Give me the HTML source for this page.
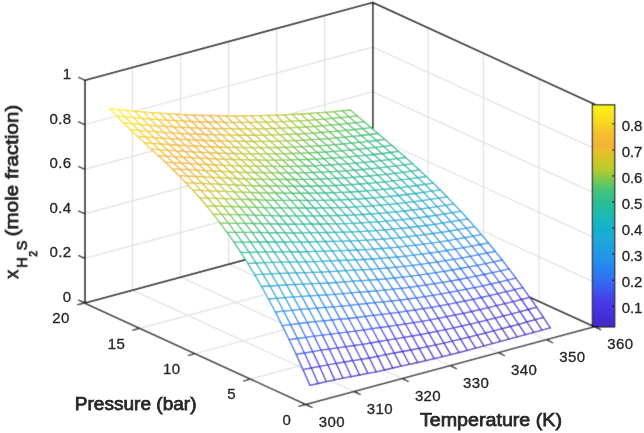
<!DOCTYPE html>
<html><head><meta charset="utf-8"><title>x_H2S mesh</title><style>
html,body{margin:0;padding:0;background:#fff;}
body{width:644px;height:433px;overflow:hidden;position:relative;}
svg{position:absolute;left:0;top:0;display:block;}
text{}
</style></head><body>
<svg width="644" height="433" viewBox="0 0 644 433">
<defs><filter id="id0" x="0" y="0" width="644" height="433" filterUnits="userSpaceOnUse"><feConvolveMatrix order="3" kernelMatrix="0 0 0 0 1 0 0 0 0" edgeMode="duplicate"/></filter><filter id="bl" x="0" y="0" width="644" height="433" filterUnits="userSpaceOnUse"><feConvolveMatrix order="3" kernelMatrix="1 2 1 2 20 2 1 2 1" edgeMode="duplicate"/></filter></defs>
<g filter="url(#bl)">
<rect width="644" height="433" fill="#fff"/>
<path d="M132.4 290 L132.4 67.3 M353.9 391.5 L132.4 290 M180.5 277.1 L180.5 54.4 M402 378.6 L180.5 277.1 M228.6 264.1 L228.6 41.4 M450.1 365.6 L228.6 264.1 M276.6 251.2 L276.6 28.5 M498.2 352.7 L276.6 251.2 M324.7 238.2 L324.7 15.5 M546.3 339.7 L324.7 238.2 M539 301.4 L539 78.7 M250.4 379.1 L539 301.4 M483.6 276 L483.6 53.3 M195 353.7 L483.6 276 M428.2 250.6 L428.2 27.9 M139.7 328.4 L428.2 250.6 M84.3 258.5 L372.8 180.7 M372.8 180.7 L594.4 282.2 M84.3 213.9 L372.8 136.2 M372.8 136.2 L594.4 237.7 M84.3 169.4 L372.8 91.7 M372.8 91.7 L594.4 193.1 M84.3 124.8 L372.8 47.1 M372.8 47.1 L594.4 148.6" stroke="#dedede" stroke-width="1.1" fill="none"/>
<path d="M85 303 L372.8 225.3 M372.8 225.3 L594.4 326.8 M85 303 L85 80.3 M372.8 225.3 L372.8 2.6 M594.4 326.8 L594.4 104.1 M85 80.3 L372.8 2.6 M372.8 2.6 L594.4 104.1" stroke="#000" stroke-width="1.6" fill="none" stroke-linecap="square"/>
<path d="M309.9 385.3 L303 369.6 L296.1 354.3 L289.2 339.7 L282.3 325.6 L275.4 312 L268.5 299 L261.6 286.5 L254.7 274.7 L247.8 263.3 L240.9 252.5 L234 242.2 L227.1 232.4 L220.2 223.1 L213.3 214.2 L206.5 205.8 L199.6 197.8 L192.7 190.1 L185.8 182.7 L178.9 175.6 L172 168.8 L165.1 162.1 L158.2 155.6 L151.3 149.2 L144.4 142.7 L137.5 136.3 L130.6 129.7 L123.7 123 L116.8 116 L109.9 108.7 L118.2 109.6 L126.5 110.4 L134.8 111.2 L143.1 111.9 L151.4 112.6 L159.7 113.2 L168 113.7 L176.3 114.2 L184.6 114.6 L192.9 115 L201.2 115.3 L209.4 115.5 L217.7 115.7 L226 115.8 L234.3 115.8 L242.6 115.8 L250.9 115.7 L259.2 115.6 L267.5 115.4 L275.8 115.1 L284.1 114.8 L292.4 114.4 L300.7 114 L309 113.5 L317.2 112.9 L325.5 112.3 L333.8 111.6 L342.1 110.8 L350.4 110 L357.3 115.9 L364.2 121.8 L371.1 127.7 L378 133.5 L384.9 139.4 L391.8 145.4 L398.7 151.4 L405.6 157.5 L412.5 163.7 L419.4 170 L426.2 176.5 L433.1 183.1 L440 189.8 L446.9 196.8 L453.8 203.9 L460.7 211.3 L467.6 218.8 L474.5 226.6 L481.4 234.6 L488.3 242.8 L495.2 251.3 L502.1 260 L509 268.9 L515.9 278.1 L522.8 287.6 L529.7 297.3 L536.6 307.2 L543.4 317.4 L550.3 327.9 L542 330.2 L533.8 332.4 L525.5 334.7 L517.2 336.9 L508.9 339.2 L500.6 341.4 L492.3 343.6 L484 345.9 L475.7 348.1 L467.4 350.3 L459.1 352.5 L450.8 354.6 L442.5 356.7 L434.2 358.7 L426 360.6 L417.7 362.5 L409.4 364.3 L401.1 366.1 L392.8 368 L384.5 370 L376.2 371.8 L367.9 373.4 L359.6 375 L351.3 376.7 L343 378.2 L334.7 379.9 L326.4 381.7 L318.2 383.5 Z" fill="#fff"/>
<g fill="none" stroke-width="1.35" stroke-linecap="round" stroke-linejoin="round">
<path d="M309.9 385.3 L318.2 383.5M392.8 368 L385.9 354.7M485.4 333 L493.7 330.9M493.7 330.9 L502 328.7M502 328.7 L510.3 326.5M510.3 326.5 L518.6 324.3M518.6 324.3 L526.9 322M526.9 322 L535.2 319.7M535.2 319.7 L543.4 317.4" stroke="#432cd1"/>
<path d="M309.9 385.3 L303 369.6M369.3 358 L377.6 356.4M435.6 344.9 L428.8 333" stroke="#4430dc"/>
<path d="M303 369.6 L311.3 368" stroke="#4538e2"/>
<path d="M303 369.6 L296.1 354.3" stroke="#4541e9"/>
<path d="M296.1 354.3 L304.4 353M345.8 346.6 L338.9 333.1M439.8 305.9 L448.1 304.3M497.9 293.7 L491 284" stroke="#3f50ee"/>
<path d="M296.1 354.3 L289.2 339.7M363.8 330 L356.9 317.5" stroke="#3762f1"/>
<path d="M289.2 339.7 L297.5 338.5M330.6 334.1 L323.7 320.9M348.6 318.5 L356.9 317.5M381.8 314.3 L374.9 302.7M509 268.9 L502.1 260" stroke="#2f70f2"/>
<path d="M289.2 339.7 L282.3 325.6M452.3 270 L460.6 268.5" stroke="#2a7df1"/>
<path d="M282.3 325.6 L290.6 324.6M435.7 272.7 L428.9 263.2M453.7 259.4 L462 257.9M495.2 251.3 L488.3 242.8" stroke="#2687ee"/>
<path d="M282.3 325.6 L275.4 312M300.3 309.4 L308.6 308.8M394.3 278 L387.4 268M404 266.4 L412.3 265.4M446.8 250.5 L455.1 249.1M480 244.5 L473.1 236.2" stroke="#2392ea"/>
<path d="M275.4 312 L283.7 311.2M318.3 295.3 L326.5 294.8M343.1 293.7 L336.2 282.5M379.1 268.7 L387.4 268M448.2 240.6 L456.5 239.2M481.4 234.6 L474.5 226.6" stroke="#2198e6"/>
<path d="M275.4 312 L268.5 299" stroke="#1f9fe0"/>
<path d="M268.5 299 L276.8 298.3M354.2 270.2 L347.3 260.2M381.9 248.5 L390.2 247.9M398.5 247.1 L391.6 238.4M434.4 224.3 L442.7 223M459.3 220.3 L452.4 212.7" stroke="#1da5dc"/>
<path d="M268.5 299 L261.6 286.5M303.1 284.1 L296.2 272.9M329.3 271.7 L322.4 261.4M373.6 249.1 L366.7 240.2M417.9 226.5 L411 218.7M444.1 214 L437.2 206.6" stroke="#1babd6"/>
<path d="M261.6 286.5 L269.9 286M286.5 284.9 L279.6 273.4M312.8 272.3 L305.9 261.8M376.4 230.6 L384.7 230M420.7 209 L428.9 207.8" stroke="#19aed0"/>
<path d="M261.6 286.5 L254.7 274.7M271.3 273.8 L279.6 273.4M315.6 251.4 L323.8 251.1M350.1 240.9 L343.2 232.2M351.5 231.9 L359.8 231.6M368.1 231.1 L361.2 222.9M369.5 222.4 L377.8 221.8M387.5 212.7 L395.8 211.9M404.1 211 L397.2 203.6M405.5 202.7 L413.8 201.7" stroke="#16b3c9"/>
<path d="M254.7 274.7 L263 274.3M281 262.2 L289.3 262.1M351.5 231.9 L344.6 223.6" stroke="#19b6c0"/>
<path d="M254.7 274.7 L247.8 263.3M300.4 242.1 L308.7 242M372.3 205.8 L365.4 198.5" stroke="#1db9b1"/>
<path d="M247.8 263.3 L256.1 263" stroke="#21bbaa"/>
<path d="M247.8 263.3 L240.9 252.5M312.9 215.8 L321.1 215.8M358.5 191.5 L351.6 184.6M395.9 165.9 L389 159.7" stroke="#26bd9e"/>
<path d="M240.9 252.5 L249.2 252.3M276.9 232.7 L285.2 232.8M343.3 185.1 L351.6 184.6M353 177.3 L361.3 176.7M390.4 152.5 L398.7 151.4" stroke="#2abe98"/>
<path d="M240.9 252.5 L234 242.2M260.3 232.5 L268.6 232.7M286.6 224.2 L279.7 215.8M325.3 193 L318.5 186M335 185.5 L328.1 178.7M364.1 162.4 L357.2 156.2M373.8 154.5 L366.9 148.4" stroke="#32bf8c"/>
<path d="M234 242.2 L242.3 242.1M250.6 242.1 L243.7 232.4M278.3 224 L271.4 215.6M288 215.9 L281.1 207.9M307.4 200.5 L300.5 193.2M319.8 179 L328.1 178.7M357.2 156.2 L350.3 150" stroke="#3ac184"/>
<path d="M234 242.2 L227.1 232.4M235.4 232.4 L243.7 232.4M324 158.7 L332.3 158.2" stroke="#47c377"/>
<path d="M227.1 232.4 L235.4 232.4" stroke="#53c56d"/>
<path d="M227.1 232.4 L220.2 223.1M257.6 199.8 L265.9 200.1M289.5 166.4 L297.8 166.3" stroke="#6cc75a"/>
<path d="M220.2 223.1 L228.5 223.2M310.3 146.3 L303.4 140.2" stroke="#78c851"/>
<path d="M220.2 223.1 L213.3 214.2" stroke="#94cb41"/>
<path d="M213.3 214.2 L221.6 214.4M232.7 198.9 L241 199.3M285.4 147.3 L278.5 141.1" stroke="#9fcc3b"/>
<path d="M213.3 214.2 L206.5 205.8M243.8 185.3 L236.9 178.5M248 166.1 L256.3 166.2M260.5 147.7 L268.8 147.6" stroke="#b5cc31"/>
<path d="M206.5 205.8 L214.7 206M238.3 172.1 L246.6 172.4M250.8 153.8 L259.1 153.8M281.3 128.2 L274.4 121.9M284.1 114.8 L292.4 114.4" stroke="#bbcb2f"/>
<path d="M206.5 205.8 L199.6 197.8M227.2 184.6 L220.3 177.7M239.7 165.9 L232.8 159.5M252.2 147.6 L245.3 141.4M256.4 128.8 L264.7 128.7" stroke="#c8c82a"/>
<path d="M199.6 197.8 L207.9 198.1M217.5 191.1 L210.7 183.9" stroke="#cdc728"/>
<path d="M199.6 197.8 L192.7 190.1" stroke="#d9c428"/>
<path d="M192.7 190.1 L201 190.4M203.8 176.9 L212 177.3M224.5 159.3 L217.6 153M249.5 122.4 L242.6 115.8" stroke="#dcc229"/>
<path d="M192.7 190.1 L185.8 182.7M231.5 128.8 L224.6 122.4" stroke="#e7be2b"/>
<path d="M185.8 182.7 L194.1 183.1M220.4 141 L213.5 134.7" stroke="#e9bd2c"/>
<path d="M185.8 182.7 L178.9 175.6M191.4 157.7 L199.7 158.1M213.5 134.7 L206.7 128.3M217.7 115.7 L226 115.8" stroke="#f0b82f"/>
<path d="M178.9 175.6 L187.2 176.1M192.8 151.8 L201.1 152.3" stroke="#f0b730"/>
<path d="M178.9 175.6 L172 168.8M172 168.8 L180.3 169.3M194.2 146 L187.3 139.7M187.3 139.7 L195.6 140.1M195.6 140.1 L188.7 133.8M199.8 121.8 L208.1 122M208.1 122 L201.2 115.3" stroke="#f3b631"/>
<path d="M172 168.8 L165.1 162.1M165.1 162.1 L173.4 162.7M187.3 139.7 L180.4 133.3M180.4 133.3 L188.7 133.8M188.7 133.8 L181.8 127.3M192.9 115 L201.2 115.3" stroke="#f4ba2f"/>
<path d="M165.1 162.1 L158.2 155.6M180.4 133.3 L173.5 126.8M173.5 126.8 L181.8 127.3" stroke="#f5be2d"/>
<path d="M158.2 155.6 L166.5 156.2M181.8 127.3 L174.9 120.6" stroke="#f5bf2d"/>
<path d="M158.2 155.6 L151.3 149.2M151.3 149.2 L159.6 149.8M166.6 120.1 L174.9 120.6" stroke="#f5c629"/>
<path d="M151.3 149.2 L144.4 142.7" stroke="#f5cd25"/>
<path d="M144.4 142.7 L152.7 143.4M152.7 143.4 L145.8 137M166.6 120.1 L159.7 113.2" stroke="#f5ce25"/>
<path d="M144.4 142.7 L137.5 136.3M151.4 112.6 L159.7 113.2" stroke="#f5d521"/>
<path d="M137.5 136.3 L145.8 137" stroke="#f6d521"/>
<path d="M137.5 136.3 L130.6 129.7" stroke="#f7dc1e"/>
<path d="M130.6 129.7 L138.9 130.4" stroke="#f7dc1d"/>
<path d="M130.6 129.7 L123.7 123" stroke="#f8e319"/>
<path d="M123.7 123 L132 123.7" stroke="#f8e419"/>
<path d="M123.7 123 L116.8 116" stroke="#f9ea17"/>
<path d="M116.8 116 L125.1 116.8" stroke="#f9eb17"/>
<path d="M116.8 116 L109.9 108.7" stroke="#faf215"/>
<path d="M109.9 108.7 L118.2 109.6" stroke="#faf315"/>
<path d="M318.2 383.5 L326.4 381.7M326.4 381.7 L334.7 379.9M409.4 364.3 L402.5 351.5" stroke="#432bd0"/>
<path d="M318.2 383.5 L311.3 368M377.6 356.4 L385.9 354.7M443.9 343.1 L437 331.4" stroke="#4430db"/>
<path d="M311.3 368 L319.6 366.4M369.3 358 L362.4 344.4M403.9 337.4 L412.2 336M461.9 326 L455 315M470.2 324.1 L463.3 313.3M478.5 322.1 L471.6 311.5" stroke="#4537e2"/>
<path d="M311.3 368 L304.4 353M395.6 338.8 L388.7 326.4M496.5 305.7 L489.6 295.6" stroke="#453fe8"/>
<path d="M304.4 353 L312.7 351.6M380.4 327.5 L388.7 326.4M448.1 304.3 L456.4 302.7M522.8 287.6 L515.9 278.1" stroke="#404eed"/>
<path d="M304.4 353 L297.5 338.5M372.1 328.7 L365.2 316.4M457.8 290.9 L466.1 289.2" stroke="#385ff1"/>
<path d="M297.5 338.5 L305.8 337.3M356.9 317.5 L365.2 316.4M467.5 277.9 L475.8 276.2" stroke="#306ef2"/>
<path d="M297.5 338.5 L290.6 324.6M442.6 282.4 L435.7 272.7M468.9 266.9 L477.2 265.3" stroke="#2b7af1"/>
<path d="M290.6 324.6 L298.9 323.5M419.2 275.1 L427.5 273.9M452.3 270 L445.4 260.7" stroke="#2784ef"/>
<path d="M290.6 324.6 L283.7 311.2M308.6 308.8 L316.9 308.1M333.4 306.8 L326.5 294.8M402.6 277.1 L395.7 267.2M412.3 265.4 L420.6 264.4M455.1 249.1 L463.4 247.6" stroke="#2390eb"/>
<path d="M283.7 311.2 L292 310.3M387.4 268 L395.7 267.2M446.8 250.5 L439.9 241.9" stroke="#2196e7"/>
<path d="M283.7 311.2 L276.8 298.3M362.5 269.8 L370.8 269.3M388.8 257.7 L397.1 257M415.1 245.3 L423.4 244.2M439.9 241.9 L433 233.5" stroke="#1f9de2"/>
<path d="M276.8 298.3 L285.1 297.6M311.4 283.7 L319.7 283.4M390.2 247.9 L398.5 247.1M416.5 235.7 L424.8 234.7M441.3 232.3 L434.4 224.3M451 221.7 L459.3 220.3" stroke="#1ea3de"/>
<path d="M276.8 298.3 L269.9 286M311.4 283.7 L304.5 272.6M337.6 271.2 L330.7 260.9M381.9 248.5 L375 239.7M409.6 227.5 L417.9 226.5M435.8 215.3 L444.1 214M460.7 211.3 L453.8 203.9" stroke="#1ba9d8"/>
<path d="M269.9 286 L278.2 285.5M294.8 284.5 L287.9 273.1M321.1 272.1 L314.2 261.7M366.7 240.2 L375 239.7M383.3 239.1 L376.4 230.6M427.5 216.5 L420.7 209M437.2 206.6 L445.5 205.3" stroke="#1aadd3"/>
<path d="M269.9 286 L263 274.3M296.2 272.9 L289.3 262.1M323.8 251.1 L332.1 250.8M340.4 250.6 L333.5 241.4M341.8 241.2 L350.1 240.9M395.8 211.9 L404.1 211M412.4 210 L405.5 202.7M413.8 201.7 L422.1 200.6" stroke="#17b2cb"/>
<path d="M263 274.3 L271.3 273.8M305.9 261.8 L299 251.7M359.8 231.6 L352.9 223.3M415.2 193.5 L423.5 192.3" stroke="#17b5c5"/>
<path d="M263 274.3 L256.1 263M290.7 251.7 L299 251.7M307.3 251.7 L300.4 242.1M308.7 242 L317 241.7M398.6 195.5 L391.7 188.6M400 187.6 L408.3 186.6M416.6 185.5 L409.7 178.8" stroke="#1bb8b7"/>
<path d="M256.1 263 L264.4 262.7" stroke="#1ebaae"/>
<path d="M256.1 263 L249.2 252.3M293.5 233 L301.8 232.9M330.8 207.8 L339.1 207.6M357.1 199.1 L350.2 192M368.2 183.4 L376.5 182.6M394.5 173.3 L387.6 166.9M395.9 165.9 L404.2 164.8M412.5 163.7 L405.6 157.5" stroke="#24bca3"/>
<path d="M249.2 252.3 L257.5 252.1M285.2 232.8 L293.5 233M332.2 200.2 L340.5 199.9M341.9 192.4 L350.2 192M377.9 175.2 L371 168.7M379.3 167.9 L387.6 166.9" stroke="#27be9d"/>
<path d="M249.2 252.3 L242.3 242.1M343.3 185.1 L336.4 178.4M353 177.3 L346.1 170.8M373.8 154.5 L382.1 153.5" stroke="#2dbe92"/>
<path d="M242.3 242.1 L250.6 242.1M258.9 242 L252 232.4M315.7 200.4 L308.8 193.2M383.5 146.4 L376.6 140.5" stroke="#33bf8b"/>
<path d="M242.3 242.1 L235.4 232.4M243.7 232.4 L252 232.4M299.1 200.4 L292.2 193.2M311.6 179.3 L319.8 179M329.5 171.8 L322.6 165.4M378 133.5 L371.1 127.7" stroke="#40c27e"/>
<path d="M235.4 232.4 L228.5 223.2M286.7 179.5 L295 179.5" stroke="#5ec665"/>
<path d="M228.5 223.2 L236.8 223.3" stroke="#6ac75c"/>
<path d="M228.5 223.2 L221.6 214.4M290.9 159.9 L284 153.7" stroke="#83c94a"/>
<path d="M221.6 214.4 L229.9 214.6M285.4 147.3 L293.7 147.1" stroke="#8eca43"/>
<path d="M221.6 214.4 L214.7 206M231.3 206.5 L224.4 198.6M256.3 166.2 L264.6 166.3" stroke="#a8cc37"/>
<path d="M214.7 206 L223 206.3M246.6 172.4 L254.9 172.5M281.3 128.2 L289.6 127.8" stroke="#b0cd33"/>
<path d="M214.7 206 L207.9 198.1M248 166.1 L241.1 159.7M260.5 147.7 L253.6 141.5" stroke="#bfca2d"/>
<path d="M207.9 198.1 L216.1 198.4" stroke="#c3c92c"/>
<path d="M207.9 198.1 L201 190.4M210.7 183.9 L218.9 184.2M223.1 165.3 L231.4 165.7M243.9 147.6 L237 141.3M248.1 128.9 L256.4 128.8" stroke="#d0c627"/>
<path d="M201 190.4 L209.3 190.8M212 177.3 L220.3 177.7M232.8 159.5 L225.9 153.3M238.4 135.2 L246.7 135.2M249.5 122.4 L257.8 122.3" stroke="#d4c527"/>
<path d="M201 190.4 L194.1 183.1M231.5 128.8 L239.8 128.9M242.6 115.8 L250.9 115.7" stroke="#dec129"/>
<path d="M194.1 183.1 L202.4 183.5M220.4 141 L228.7 141.2" stroke="#e1c12a"/>
<path d="M194.1 183.1 L187.2 176.1" stroke="#ebbd2c"/>
<path d="M187.2 176.1 L195.5 176.5M201.1 152.3 L209.4 152.7M209.4 152.7 L202.5 146.4M214.9 128.6 L223.2 128.7" stroke="#edbc2d"/>
<path d="M187.2 176.1 L180.3 169.3M201.1 152.3 L194.2 146M194.2 146 L202.5 146.4M214.9 128.6 L208.1 122" stroke="#f1b730"/>
<path d="M180.3 169.3 L188.6 169.7M195.6 140.1 L203.9 140.5" stroke="#f2b631"/>
<path d="M180.3 169.3 L173.4 162.7M173.4 162.7 L181.7 163.2M188.7 133.8 L197 134.2M201.2 115.3 L209.4 115.5" stroke="#f4b731"/>
<path d="M173.4 162.7 L166.5 156.2M166.5 156.2 L174.8 156.7M181.8 127.3 L190.1 127.7" stroke="#f4bb2f"/>
<path d="M166.5 156.2 L159.6 149.8" stroke="#f5bf2c"/>
<path d="M159.6 149.8 L167.9 150.3M167.9 150.3 L161 144M174.9 120.6 L183.2 121.1" stroke="#f5c02c"/>
<path d="M159.6 149.8 L152.7 143.4" stroke="#f5c729"/>
<path d="M152.7 143.4 L161 144M174.9 120.6 L168 113.7" stroke="#f5c728"/>
<path d="M145.8 137 L154.1 137.6M159.7 113.2 L168 113.7" stroke="#f5cf25"/>
<path d="M145.8 137 L138.9 130.4M138.9 130.4 L147.2 131.1" stroke="#f6d621"/>
<path d="M138.9 130.4 L132 123.7" stroke="#f7dd1d"/>
<path d="M132 123.7 L140.3 124.5" stroke="#f7de1d"/>
<path d="M132 123.7 L125.1 116.8M125.1 116.8 L133.4 117.6" stroke="#f8e519"/>
<path d="M125.1 116.8 L118.2 109.6" stroke="#f9ec17"/>
<path d="M118.2 109.6 L126.5 110.4" stroke="#f9ed16"/>
<path d="M326.4 381.7 L319.6 366.4M334.7 379.9 L327.8 364.8M385.9 354.7 L394.2 353M452.2 341.2 L445.3 329.7" stroke="#442fda"/>
<path d="M319.6 366.4 L327.8 364.8M377.6 356.4 L370.7 343M412.2 336 L420.5 334.6M486.8 320.1 L479.9 309.6M495.1 318.1 L488.2 307.7M503.4 316 L496.5 305.7" stroke="#4536e1"/>
<path d="M319.6 366.4 L312.7 351.6" stroke="#463ee7"/>
<path d="M312.7 351.6 L321 350.2" stroke="#414cec"/>
<path d="M312.7 351.6 L305.8 337.3M380.4 327.5 L373.5 315.3" stroke="#3a5cf0"/>
<path d="M305.8 337.3 L314.1 336.1M449.5 292.4 L442.6 282.4M484.1 274.5 L492.4 272.7" stroke="#326bf2"/>
<path d="M305.8 337.3 L298.9 323.5M374.9 302.7 L383.2 301.9M417.8 286.2 L426.1 285M450.9 281 L444 271.4" stroke="#2c78f1"/>
<path d="M298.9 323.5 L307.2 322.5M332 320 L325.1 307.4M374.9 302.7 L368 291.5M427.5 273.9 L435.7 272.7M460.6 268.5 L453.7 259.4M486.9 253 L495.2 251.3" stroke="#2882f0"/>
<path d="M298.9 323.5 L292 310.3M316.9 308.1 L325.1 307.4M341.7 306.2 L334.8 294.4M453.7 259.4 L446.8 250.5M480 244.5 L488.3 242.8" stroke="#248dec"/>
<path d="M292 310.3 L300.3 309.4M395.7 267.2 L404 266.4M420.6 264.4 L413.7 255.1M430.2 253 L438.5 251.8M463.4 247.6 L456.5 239.2" stroke="#2294e9"/>
<path d="M292 310.3 L285.1 297.6M361.1 280.7 L354.2 270.2M387.4 268 L380.5 258.4M466.2 228.1 L474.5 226.6" stroke="#209be3"/>
<path d="M285.1 297.6 L293.4 296.9M310 295.9 L303.1 284.1M345.9 270.7 L354.2 270.2M372.2 259 L380.5 258.4M398.5 247.1 L406.8 246.2M424.8 234.7 L433 233.5M449.6 231 L442.7 223" stroke="#1ea1df"/>
<path d="M285.1 297.6 L278.2 285.5M294.8 284.5 L303.1 284.1M321.1 272.1 L329.3 271.7M347.3 260.2 L355.6 259.9M390.2 247.9 L383.3 239.1M391.6 238.4 L399.9 237.6M417.9 226.5 L426.2 225.5M442.7 223 L435.8 215.3M452.4 212.7 L460.7 211.3" stroke="#1ca8da"/>
<path d="M278.2 285.5 L286.5 284.9M375 239.7 L383.3 239.1M391.6 238.4 L384.7 230M419.3 217.6 L427.5 216.5" stroke="#1aabd5"/>
<path d="M278.2 285.5 L271.3 273.8M332.1 250.8 L340.4 250.6M348.7 250.3 L341.8 241.2M350.1 240.9 L358.4 240.6M366.7 240.2 L359.8 231.6M368.1 231.1 L376.4 230.6M384.7 230 L377.8 221.8M386.1 221.2 L394.4 220.4M428.9 207.8 L422.1 200.6M430.3 199.4 L438.6 198.1" stroke="#18b0ce"/>
<path d="M271.3 273.8 L264.4 262.7M361.2 222.9 L354.3 214.9" stroke="#1ab7bc"/>
<path d="M264.4 262.7 L272.7 262.4M408.3 186.6 L401.4 179.9" stroke="#1db9b4"/>
<path d="M264.4 262.7 L257.5 252.1M301.8 232.9 L310.1 232.7M393.1 180.9 L386.2 174.3M394.5 173.3 L402.8 172.3" stroke="#22bba8"/>
<path d="M257.5 252.1 L265.8 251.9M274.1 251.9 L267.2 242M275.5 242 L283.8 242M329.4 215.7 L322.5 207.9M350.2 192 L358.5 191.5M376.5 182.6 L369.6 176M404.2 164.8 L397.3 158.6" stroke="#25bda1"/>
<path d="M257.5 252.1 L250.6 242.1M275.5 242 L268.6 232.7M303.2 224.1 L296.3 215.8M362.7 169.5 L371 168.7M389 159.7 L382.1 153.5" stroke="#2abe97"/>
<path d="M250.6 242.1 L258.9 242M267.2 242 L260.3 232.5M304.6 215.8 L297.7 207.9M314.3 208 L307.4 200.5M323.9 200.4 L317.1 193.1M333.6 192.7 L326.7 185.8M362.7 169.5 L355.8 163.2" stroke="#2dbe91"/>
<path d="M243.7 232.4 L236.8 223.3M254.8 215.2 L263.1 215.4M264.5 207.6 L272.8 207.8M295 179.5 L303.3 179.4M362.8 128.6 L355.9 122.7" stroke="#51c46f"/>
<path d="M236.8 223.3 L245.1 223.4" stroke="#5cc667"/>
<path d="M236.8 223.3 L229.9 214.6M329.6 131.9 L322.7 125.8" stroke="#73c854"/>
<path d="M229.9 214.6 L238.2 214.7" stroke="#7ec94d"/>
<path d="M229.9 214.6 L223 206.3M239.6 206.8 L232.7 198.9M264.6 166.3 L272.9 166.4" stroke="#98cb3e"/>
<path d="M223 206.3 L231.3 206.5M274.3 160.1 L267.4 153.9M296.5 134 L289.6 127.8" stroke="#a1cc3a"/>
<path d="M223 206.3 L216.1 198.4" stroke="#b6cc31"/>
<path d="M216.1 198.4 L224.4 198.6M234.1 191.8 L227.2 184.6M270.2 141.3 L263.3 135.1" stroke="#bacb2f"/>
<path d="M216.1 198.4 L209.3 190.8M231.4 165.7 L239.7 165.9M274.4 121.9 L267.5 115.4" stroke="#c7c82a"/>
<path d="M209.3 190.8 L217.5 191.1M220.3 177.7 L228.6 178.1M232.8 159.5 L241.1 159.7M264.7 128.7 L257.8 122.3M267.5 115.4 L275.8 115.1" stroke="#cac829"/>
<path d="M209.3 190.8 L202.4 183.5" stroke="#d6c427"/>
<path d="M202.4 183.5 L210.7 183.9M221.7 171.4 L214.8 164.9M235.6 147.4 L228.7 141.2" stroke="#d8c428"/>
<path d="M202.4 183.5 L195.5 176.5M208 158.5 L216.2 158.9M221.8 134.9 L230.1 135.1" stroke="#e3c02a"/>
<path d="M195.5 176.5 L203.8 176.9M209.4 152.7 L217.6 153M234.3 115.8 L242.6 115.8" stroke="#e5bf2b"/>
<path d="M195.5 176.5 L188.6 169.7" stroke="#eebb2d"/>
<path d="M188.6 169.7 L196.9 170.2M203.9 140.5 L212.1 140.8M216.3 122.2 L224.6 122.4" stroke="#eeba2e"/>
<path d="M188.6 169.7 L181.7 163.2M203.9 140.5 L197 134.2M216.3 122.2 L209.4 115.5" stroke="#f2b531"/>
<path d="M181.7 163.2 L190 163.6M191.4 157.7 L184.5 151.3M184.5 151.3 L192.8 151.8M206.7 128.3 L199.8 121.8" stroke="#f3b532"/>
<path d="M181.7 163.2 L174.8 156.7M197 134.2 L190.1 127.7M190.1 127.7 L198.4 128.1" stroke="#f4b730"/>
<path d="M174.8 156.7 L183.1 157.2M183.1 157.2 L176.2 150.8M176.2 150.8 L184.5 151.3M184.5 151.3 L177.6 145M198.4 128.1 L191.5 121.5" stroke="#f4b830"/>
<path d="M174.8 156.7 L167.9 150.3M190.1 127.7 L183.2 121.1" stroke="#f4bb2e"/>
<path d="M167.9 150.3 L176.2 150.8M176.2 150.8 L169.3 144.5M169.3 144.5 L177.6 145M177.6 145 L170.7 138.7M170.7 138.7 L179 139.2M183.2 121.1 L191.5 121.5M191.5 121.5 L184.6 114.6" stroke="#f5bc2e"/>
<path d="M161 144 L169.3 144.5M183.2 121.1 L176.3 114.2" stroke="#f5c12c"/>
<path d="M161 144 L154.1 137.6M154.1 137.6 L162.4 138.2M168 113.7 L176.3 114.2" stroke="#f5c828"/>
<path d="M154.1 137.6 L147.2 131.1" stroke="#f5cf24"/>
<path d="M147.2 131.1 L155.5 131.7M155.5 131.7 L148.6 125.1" stroke="#f5d024"/>
<path d="M147.2 131.1 L140.3 124.5M140.3 124.5 L148.6 125.1" stroke="#f6d720"/>
<path d="M140.3 124.5 L133.4 117.6" stroke="#f7de1c"/>
<path d="M133.4 117.6 L141.7 118.3" stroke="#f7df1c"/>
<path d="M133.4 117.6 L126.5 110.4" stroke="#f8e618"/>
<path d="M126.5 110.4 L134.8 111.2" stroke="#f8e718"/>
<path d="M334.7 379.9 L343 378.2M417.7 362.5 L410.8 350" stroke="#432bcf"/>
<path d="M327.8 364.8 L336.1 363.4M385.9 354.7 L379 341.5M428.8 333 L437 331.4" stroke="#4535e0"/>
<path d="M327.8 364.8 L321 350.2M403.9 337.4 L397 325.2M438.4 318.4 L446.7 316.7M446.7 316.7 L455 315M529.7 297.3 L522.8 287.6" stroke="#463de7"/>
<path d="M321 350.2 L329.2 349M481.3 297.5 L489.6 295.6" stroke="#4249eb"/>
<path d="M321 350.2 L314.1 336.1M482.7 285.8 L491 284" stroke="#3b5af0"/>
<path d="M314.1 336.1 L322.4 335.1" stroke="#3368f1"/>
<path d="M314.1 336.1 L307.2 322.5M332 320 L340.3 319.2M365.2 316.4 L358.3 304.4M408.1 299 L401.2 288.3M426.1 285 L434.3 283.7" stroke="#2d76f1"/>
<path d="M307.2 322.5 L315.5 321.7M340.3 319.2 L333.4 306.8M383.2 301.9 L376.3 290.8M477.2 265.3 L470.3 256.3" stroke="#297ff0"/>
<path d="M307.2 322.5 L300.3 309.4M359.7 292.1 L368 291.5M384.6 290.1 L377.7 279.5M394.3 278 L402.6 277.1M437.1 262 L445.4 260.7M470.3 256.3 L463.4 247.6" stroke="#258bed"/>
<path d="M300.3 309.4 L293.4 296.9M395.7 267.2 L388.8 257.7" stroke="#2099e5"/>
<path d="M293.4 296.9 L301.7 296.4M318.3 295.3 L311.4 283.7M354.2 270.2 L362.5 269.8M380.5 258.4 L388.8 257.7M406.8 246.2 L415.1 245.3M431.6 243.1 L424.8 234.7M441.3 232.3 L449.6 231M466.2 228.1 L459.3 220.3" stroke="#1f9fe1"/>
<path d="M293.4 296.9 L286.5 284.9M303.1 284.1 L311.4 283.7M355.6 259.9 L363.9 259.5M424.8 234.7 L417.9 226.5" stroke="#1da6dc"/>
<path d="M286.5 284.9 L294.8 284.5M312.8 272.3 L321.1 272.1M339 260.5 L347.3 260.2M355.6 259.9 L348.7 250.3M399.9 237.6 L393 229.2M426.2 225.5 L419.3 217.6M452.4 212.7 L445.5 205.3" stroke="#1baad7"/>
<path d="M279.6 273.4 L287.9 273.1M322.4 261.4 L315.6 251.4M422.1 200.6 L430.3 199.4" stroke="#17b1cc"/>
<path d="M279.6 273.4 L272.7 262.4M370.9 214 L379.2 213.4M387.5 212.7 L380.6 205.2M388.9 204.4 L397.2 203.6M405.5 202.7 L398.6 195.5M406.9 194.5 L415.2 193.5" stroke="#18b5c2"/>
<path d="M272.7 262.4 L281 262.2M370.9 214 L364 206.4" stroke="#1bb8b9"/>
<path d="M272.7 262.4 L265.8 251.9M308.7 242 L301.8 232.9" stroke="#1fbbac"/>
<path d="M265.8 251.9 L274.1 251.9M282.4 251.8 L275.5 242M283.8 242 L292.1 242.1" stroke="#22bca6"/>
<path d="M265.8 251.9 L258.9 242M267.2 242 L275.5 242M321.1 215.8 L314.3 208M389 159.7 L397.3 158.6" stroke="#28be9c"/>
<path d="M258.9 242 L267.2 242M312.9 215.8 L306 208M322.5 207.9 L315.7 200.4M332.2 200.2 L325.3 193M341.9 192.4 L335 185.5" stroke="#2abe96"/>
<path d="M252 232.4 L260.3 232.5M317.1 193.1 L310.2 186.2M329.5 171.8 L337.8 171.4M358.6 149.2 L366.9 148.4M368.3 141.4 L376.6 140.5" stroke="#39c185"/>
<path d="M252 232.4 L245.1 223.4M300.5 193.2 L293.6 186.2M353.1 136.4 L361.4 135.5" stroke="#46c379"/>
<path d="M245.1 223.4 L253.4 223.5M325.4 152 L333.7 151.4" stroke="#4ec471"/>
<path d="M245.1 223.4 L238.2 214.7M288.1 172.9 L296.4 172.8M339.3 124.4 L347.6 123.6M349 116.8 L357.3 115.9" stroke="#65c65f"/>
<path d="M238.2 214.7 L246.5 214.9M247.9 207.1 L256.2 207.3" stroke="#6ec758"/>
<path d="M238.2 214.7 L231.3 206.5M284 153.7 L292.3 153.5" stroke="#87c948"/>
<path d="M231.3 206.5 L239.6 206.8" stroke="#90ca42"/>
<path d="M224.4 198.6 L232.7 198.9M266 160.1 L259.1 153.8M270.2 141.3 L278.5 141.1" stroke="#afcd33"/>
<path d="M224.4 198.6 L217.5 191.1M274.4 121.9 L282.7 121.6" stroke="#bdcb2e"/>
<path d="M217.5 191.1 L225.8 191.4M241.1 159.7 L249.4 159.9" stroke="#c1ca2c"/>
<path d="M210.7 183.9 L203.8 176.9M223.1 165.3 L216.2 158.9M237 141.3 L230.1 135.1M241.2 122.4 L249.5 122.4" stroke="#dac328"/>
<path d="M203.8 176.9 L196.9 170.2M217.6 153 L210.7 146.8M223.2 128.7 L231.5 128.8" stroke="#e6bf2b"/>
<path d="M196.9 170.2 L205.2 170.6M219 147 L212.1 140.8" stroke="#e7be2c"/>
<path d="M196.9 170.2 L190 163.6M212.1 140.8 L205.3 134.5" stroke="#efba2e"/>
<path d="M190 163.6 L198.3 164.1M205.3 134.5 L213.5 134.7M224.6 122.4 L217.7 115.7" stroke="#efb92f"/>
<path d="M190 163.6 L183.1 157.2M183.1 157.2 L191.4 157.7M205.3 134.5 L198.4 128.1M198.4 128.1 L206.7 128.3M209.4 115.5 L217.7 115.7" stroke="#f3b432"/>
<path d="M169.3 144.5 L162.4 138.2" stroke="#f5c12b"/>
<path d="M162.4 138.2 L170.7 138.7M170.7 138.7 L163.8 132.3M176.3 114.2 L184.6 114.6" stroke="#f5c22b"/>
<path d="M162.4 138.2 L155.5 131.7" stroke="#f5c928"/>
<path d="M155.5 131.7 L163.8 132.3" stroke="#f5c927"/>
<path d="M148.6 125.1 L156.9 125.8" stroke="#f5d123"/>
<path d="M148.6 125.1 L141.7 118.3" stroke="#f6d820"/>
<path d="M141.7 118.3 L150 119" stroke="#f6d91f"/>
<path d="M141.7 118.3 L134.8 111.2" stroke="#f7e01b"/>
<path d="M134.8 111.2 L143.1 111.9" stroke="#f8e11b"/>
<path d="M343 378.2 L351.3 376.7M426 360.6 L419.1 348.3" stroke="#432ace"/>
<path d="M343 378.2 L336.1 363.4" stroke="#442fd8"/>
<path d="M336.1 363.4 L344.4 362M437 331.4 L445.3 329.7" stroke="#4534df"/>
<path d="M336.1 363.4 L329.2 349M370.7 343 L379 341.5M420.5 334.6 L413.6 322.7M463.3 313.3 L471.6 311.5" stroke="#463be6"/>
<path d="M329.2 349 L337.5 347.8M506.2 291.7 L514.5 289.7" stroke="#4346eb"/>
<path d="M329.2 349 L322.4 335.1M415 310 L423.3 308.7M456.4 302.7 L449.5 292.4" stroke="#3c57f0"/>
<path d="M322.4 335.1 L330.6 334.1" stroke="#3564f1"/>
<path d="M322.4 335.1 L315.5 321.7M484.1 274.5 L477.2 265.3" stroke="#2e73f2"/>
<path d="M315.5 321.7 L323.7 320.9M391.5 301 L384.6 290.1M434.3 283.7 L427.5 273.9M502.1 260 L495.2 251.3" stroke="#2a7cf1"/>
<path d="M315.5 321.7 L308.6 308.8M358.3 304.4 L351.4 292.9M368 291.5 L376.3 290.8M392.9 289.2 L386 278.8M486.9 253 L480 244.5" stroke="#2688ee"/>
<path d="M308.6 308.8 L301.7 296.4M352.8 281.2 L361.1 280.7M404 266.4 L397.1 257M413.7 255.1 L422 254.1M438.5 251.8 L431.6 243.1" stroke="#2197e6"/>
<path d="M301.7 296.4 L310 295.9M326.5 294.8 L319.7 283.4M336.2 282.5 L344.5 281.8M413.7 255.1 L406.8 246.2M423.4 244.2 L431.6 243.1M448.2 240.6 L441.3 232.3M457.9 229.6 L466.2 228.1" stroke="#209ce3"/>
<path d="M301.7 296.4 L294.8 284.5" stroke="#1da3dd"/>
<path d="M287.9 273.1 L296.2 272.9M330.7 260.9 L323.8 251.1" stroke="#18b0cf"/>
<path d="M287.9 273.1 L281 262.2M395.8 211.9 L388.9 204.4M440 189.8 L433.1 183.1" stroke="#16b4c7"/>
<path d="M281 262.2 L274.1 251.9M317 241.7 L310.1 232.7M318.4 232.6 L326.6 232.5M346 215.3 L354.3 214.9M373.7 197.9 L382 197.2" stroke="#1db9b2"/>
<path d="M274.1 251.9 L282.4 251.8M290.7 251.7 L283.8 242M373.7 197.9 L366.8 190.9M401.4 179.9 L394.5 173.3M402.8 172.3 L411.1 171.2M419.4 170 L412.5 163.7" stroke="#20bbab"/>
<path d="M260.3 232.5 L253.4 223.5M271.4 215.6 L279.7 215.8M281.1 207.9 L289.4 207.9M290.8 200.4 L299.1 200.4M321.2 172.2 L329.5 171.8M369.7 134.5 L378 133.5" stroke="#3ec280"/>
<path d="M253.4 223.5 L261.7 223.7M292.2 193.2 L300.5 193.2M310.2 186.2 L303.3 179.4M350.3 150 L343.4 144M360 142.4 L353.1 136.4" stroke="#43c37b"/>
<path d="M253.4 223.5 L246.5 214.9M272.8 207.8 L265.9 200.1M314.4 165.8 L307.5 159.5" stroke="#57c56a"/>
<path d="M246.5 214.9 L254.8 215.2M283.9 193.1 L277 186.1M315.8 159.1 L308.9 152.9M318.5 145.8 L326.8 145.3" stroke="#5fc664"/>
<path d="M246.5 214.9 L239.6 206.8M277 186.1 L270.1 179.3M288.1 172.9 L281.2 166.4M299.2 159.7 L292.3 153.5M332.4 118.4 L340.7 117.6M342.1 110.8 L350.4 110" stroke="#76c852"/>
<path d="M239.6 206.8 L247.9 207.1" stroke="#7ec94c"/>
<path d="M232.7 198.9 L225.8 191.4M254.9 172.5 L248 166.1M267.4 153.9 L260.5 147.7M289.6 127.8 L282.7 121.6" stroke="#b3cc32"/>
<path d="M225.8 191.4 L234.1 191.8M236.9 178.5 L245.2 178.8M268.8 147.6 L261.9 141.4M279.9 134.7 L273 128.5" stroke="#b7cc30"/>
<path d="M225.8 191.4 L218.9 184.2" stroke="#c3c92b"/>
<path d="M218.9 184.2 L227.2 184.6M243.9 147.6 L252.2 147.6" stroke="#c6c92a"/>
<path d="M218.9 184.2 L212 177.3M231.4 165.7 L224.5 159.3M237 141.3 L245.3 141.4M256.4 128.8 L249.5 122.4" stroke="#d2c626"/>
<path d="M212 177.3 L205.2 170.6M225.9 153.3 L219 147" stroke="#dec229"/>
<path d="M205.2 170.6 L213.4 171M219 147 L227.3 147.3" stroke="#dfc129"/>
<path d="M205.2 170.6 L198.3 164.1M224.6 122.4 L232.9 122.4" stroke="#e9be2c"/>
<path d="M198.3 164.1 L206.6 164.5M206.6 164.5 L199.7 158.1M213.5 134.7 L221.8 134.9M232.9 122.4 L226 115.8" stroke="#eabd2c"/>
<path d="M198.3 164.1 L191.4 157.7" stroke="#f0b92f"/>
<path d="M177.6 145 L185.9 145.6M185.9 145.6 L179 139.2M191.5 121.5 L199.8 121.8" stroke="#f4b930"/>
<path d="M163.8 132.3 L172.1 132.9" stroke="#f5c32b"/>
<path d="M163.8 132.3 L156.9 125.8" stroke="#f5ca27"/>
<path d="M156.9 125.8 L165.2 126.3" stroke="#f5cb27"/>
<path d="M156.9 125.8 L150 119" stroke="#f5d223"/>
<path d="M150 119 L158.3 119.6" stroke="#f5d323"/>
<path d="M150 119 L143.1 111.9" stroke="#f6da1f"/>
<path d="M143.1 111.9 L151.4 112.6" stroke="#f7db1e"/>
<path d="M351.3 376.7 L359.6 375M442.5 356.7 L435.6 344.9M450.8 354.6 L443.9 343.1" stroke="#422acc"/>
<path d="M351.3 376.7 L344.4 362M518.6 324.3 L511.7 313.9M526.9 322 L520 311.7M535.2 319.7 L528.3 309.5M543.4 317.4 L536.6 307.2" stroke="#442ed7"/>
<path d="M344.4 362 L352.7 360.6M402.5 351.5 L395.6 338.8M445.3 329.7 L453.6 327.9M453.6 327.9 L461.9 326" stroke="#4433df"/>
<path d="M344.4 362 L337.5 347.8M428.8 333 L421.9 321.4M479.9 309.6 L488.2 307.7M488.2 307.7 L496.5 305.7" stroke="#453ae5"/>
<path d="M337.5 347.8 L345.8 346.6M463.3 313.3 L456.4 302.7" stroke="#4443ea"/>
<path d="M337.5 347.8 L330.6 334.1M363.8 330 L372.1 328.7" stroke="#3e53ef"/>
<path d="M330.6 334.1 L338.9 333.1M499.3 282.1 L492.4 272.7M507.6 280.1 L500.7 270.8" stroke="#3761f1"/>
<path d="M323.7 320.9 L332 320" stroke="#2b79f1"/>
<path d="M323.7 320.9 L316.9 308.1M366.6 303.5 L359.7 292.1M376.3 290.8 L384.6 290.1M444 271.4 L437.1 262M470.3 256.3 L478.6 254.7" stroke="#2785ef"/>
<path d="M316.9 308.1 L310 295.9M326.5 294.8 L334.8 294.4M351.4 292.9 L344.5 281.8M361.1 280.7 L369.4 280.1M386 278.8 L379.1 268.7M455.1 249.1 L448.2 240.6M473.1 236.2 L481.4 234.6" stroke="#2295e8"/>
<path d="M310 295.9 L318.3 295.3M370.8 269.3 L379.1 268.7M422 254.1 L415.1 245.3M431.6 243.1 L439.9 241.9" stroke="#209ae4"/>
<path d="M296.2 272.9 L304.5 272.6M339 260.5 L332.1 250.8M340.4 250.6 L348.7 250.3M357 250 L350.1 240.9M358.4 240.6 L366.7 240.2M375 239.7 L368.1 231.1M419.3 217.6 L412.4 210M445.5 205.3 L438.6 198.1" stroke="#19aed1"/>
<path d="M289.3 262.1 L297.6 261.9M361.2 222.9 L369.5 222.4" stroke="#17b5c6"/>
<path d="M289.3 262.1 L282.4 251.8M325.2 241.5 L318.4 232.6M326.6 232.5 L334.9 232.4M354.3 214.9 L362.6 214.5" stroke="#1bb8b8"/>
<path d="M282.4 251.8 L290.7 251.7M299 251.7 L292.1 242.1M344.6 223.6 L337.7 215.5" stroke="#1dbab1"/>
<path d="M268.6 232.7 L276.9 232.7M294.9 224.2 L288 215.9" stroke="#2cbe92"/>
<path d="M268.6 232.7 L261.7 223.7M279.7 215.8 L288 215.9M299.1 200.4 L307.4 200.5M326.7 185.8 L319.8 179M336.4 178.4 L329.5 171.8M375.2 147.4 L368.3 141.4" stroke="#37c087"/>
<path d="M261.7 223.7 L270 223.9M328.1 178.7 L321.2 172.2M376.6 140.5 L369.7 134.5" stroke="#3cc182"/>
<path d="M261.7 223.7 L254.8 215.2M293.6 186.2 L301.9 186.2M311.6 179.3 L304.7 172.7M314.4 165.8 L322.6 165.4M342 150.8 L335.1 144.7" stroke="#49c376"/>
<path d="M254.8 215.2 L247.9 207.1M319.9 139.2 L328.2 138.6" stroke="#67c75e"/>
<path d="M247.9 207.1 L241 199.3M322.7 125.8 L315.8 119.7" stroke="#86c948"/>
<path d="M241 199.3 L249.3 199.5M303.4 140.2 L296.5 134M306.2 127 L314.5 126.4" stroke="#8dca44"/>
<path d="M241 199.3 L234.1 191.8" stroke="#a4cc38"/>
<path d="M234.1 191.8 L242.4 192.1M245.2 178.8 L253.5 179M264.6 166.3 L257.7 160M268.8 147.6 L277.1 147.5M279.9 134.7 L288.2 134.4" stroke="#aacc36"/>
<path d="M227.2 184.6 L235.5 185M246.6 172.4 L239.7 165.9M259.1 153.8 L252.2 147.6M263.3 135.1 L271.6 134.9" stroke="#bccb2e"/>
<path d="M220.3 177.7 L213.4 171M225.9 153.3 L234.2 153.5" stroke="#d5c527"/>
<path d="M213.4 171 L221.7 171.4M227.3 147.3 L235.6 147.4M239.8 128.9 L248.1 128.9" stroke="#d7c427"/>
<path d="M213.4 171 L206.6 164.5M227.3 147.3 L220.4 141M239.8 128.9 L232.9 122.4" stroke="#e0c12a"/>
<path d="M206.6 164.5 L214.8 164.9M232.9 122.4 L241.2 122.4" stroke="#e1c02a"/>
<path d="M199.7 158.1 L208 158.5" stroke="#ebbd2d"/>
<path d="M199.7 158.1 L192.8 151.8M206.7 128.3 L214.9 128.6" stroke="#f0b830"/>
<path d="M192.8 151.8 L185.9 145.6M185.9 145.6 L194.2 146" stroke="#f3b531"/>
<path d="M179 139.2 L187.3 139.7M199.8 121.8 L192.9 115" stroke="#f4b92f"/>
<path d="M179 139.2 L172.1 132.9M184.6 114.6 L192.9 115" stroke="#f5bd2e"/>
<path d="M172.1 132.9 L180.4 133.3" stroke="#f5bd2d"/>
<path d="M172.1 132.9 L165.2 126.3" stroke="#f5c32a"/>
<path d="M165.2 126.3 L173.5 126.8" stroke="#f5c42a"/>
<path d="M165.2 126.3 L158.3 119.6" stroke="#f5cb26"/>
<path d="M158.3 119.6 L166.6 120.1" stroke="#f5cc26"/>
<path d="M158.3 119.6 L151.4 112.6" stroke="#f5d422"/>
<path d="M359.6 375 L367.9 373.4M467.4 350.3 L460.5 339.2M475.7 348.1 L468.8 337.2M484 345.9 L477.1 335.1M492.3 343.6 L485.4 333M500.6 341.4 L493.7 330.9M508.9 339.2 L502 328.7M517.2 336.9 L510.3 326.5M525.5 334.7 L518.6 324.3M533.8 332.4 L526.9 322M542 330.2 L535.2 319.7M550.3 327.9 L543.4 317.4" stroke="#4229cb"/>
<path d="M359.6 375 L352.7 360.6M410.8 350 L419.1 348.3" stroke="#432ed6"/>
<path d="M352.7 360.6 L361 359.3M410.8 350 L403.9 337.4M470.2 324.1 L478.5 322.1M478.5 322.1 L486.8 320.1" stroke="#4432de"/>
<path d="M352.7 360.6 L345.8 346.6M437 331.4 L430.2 319.9M521.4 299.5 L529.7 297.3" stroke="#4539e4"/>
<path d="M345.8 346.6 L354.1 345.5M421.9 321.4 L430.2 319.9M479.9 309.6 L473 299.3" stroke="#4540e9"/>
<path d="M338.9 333.1 L347.2 332.1M466.1 289.2 L474.4 287.6" stroke="#395df0"/>
<path d="M338.9 333.1 L332 320M408.1 299 L416.4 297.8" stroke="#316df2"/>
<path d="M325.1 307.4 L333.4 306.8M350 305.4 L343.1 293.7" stroke="#258aed"/>
<path d="M325.1 307.4 L318.3 295.3M369.4 280.1 L377.7 279.5M438.5 251.8 L446.8 250.5M471.7 246.1 L464.8 237.7" stroke="#2293ea"/>
<path d="M304.5 272.6 L312.8 272.3M347.3 260.2 L340.4 250.6M348.7 250.3 L357 250M393 229.2 L401.3 228.4M409.6 227.5 L402.7 219.6M435.8 215.3 L428.9 207.8M445.5 205.3 L453.8 203.9" stroke="#1aacd4"/>
<path d="M304.5 272.6 L297.6 261.9M402.7 219.6 L395.8 211.9" stroke="#18b0cd"/>
<path d="M297.6 261.9 L305.9 261.8M430.3 199.4 L423.5 192.3M431.7 191.1 L440 189.8" stroke="#17b3ca"/>
<path d="M297.6 261.9 L290.7 251.7M299 251.7 L307.3 251.7M333.5 241.4 L326.6 232.5M379.2 213.4 L372.3 205.8M380.6 205.2 L388.9 204.4M398.6 195.5 L406.9 194.5M415.2 193.5 L408.3 186.6M416.6 185.5 L424.9 184.3" stroke="#19b6be"/>
<path d="M283.8 242 L276.9 232.7M311.5 224 L304.6 215.8M351.6 184.6 L359.9 184M405.6 157.5 L398.7 151.4" stroke="#27be9c"/>
<path d="M276.9 232.7 L270 223.9M288 215.9 L296.3 215.8M317.1 193.1 L325.3 193M365.5 155.4 L373.8 154.5M391.8 145.4 L384.9 139.4" stroke="#30bf8e"/>
<path d="M270 223.9 L278.3 224M318.5 186 L326.7 185.8M366.9 148.4 L375.2 147.4" stroke="#35c089"/>
<path d="M270 223.9 L263.1 215.4M279.7 215.8 L272.8 207.8M289.4 207.9 L282.5 200.3M301.9 186.2 L310.2 186.2M332.3 158.2 L340.6 157.6M342 150.8 L350.3 150M351.7 143.2 L360 142.4M361.4 135.5 L369.7 134.5" stroke="#41c27d"/>
<path d="M263.1 215.4 L271.4 215.6M272.8 207.8 L281.1 207.9M282.5 200.3 L290.8 200.4M343.4 144 L351.7 143.2" stroke="#45c379"/>
<path d="M263.1 215.4 L256.2 207.3M296.4 172.8 L304.7 172.7M364.2 121.8 L357.3 115.9" stroke="#59c569"/>
<path d="M256.2 207.3 L264.5 207.6M297.8 166.3 L306.1 166" stroke="#60c664"/>
<path d="M256.2 207.3 L249.3 199.5M319.9 139.2 L313.1 133.1" stroke="#75c853"/>
<path d="M249.3 199.5 L257.6 199.8M289.5 166.4 L282.6 160.1M303.4 140.2 L311.7 139.7" stroke="#7cc84e"/>
<path d="M249.3 199.5 L242.4 192.1" stroke="#93cb41"/>
<path d="M242.4 192.1 L250.7 192.4M284 153.7 L277.1 147.5M297.9 127.4 L306.2 127" stroke="#99cb3e"/>
<path d="M242.4 192.1 L235.5 185" stroke="#afcd34"/>
<path d="M235.5 185 L243.8 185.3M278.5 141.1 L271.6 134.9" stroke="#b2cc32"/>
<path d="M235.5 185 L228.6 178.1M271.6 134.9 L264.7 128.7" stroke="#beca2d"/>
<path d="M228.6 178.1 L236.9 178.5M253.6 141.5 L261.9 141.4" stroke="#c1ca2d"/>
<path d="M228.6 178.1 L221.7 171.4M234.2 153.5 L242.5 153.6M246.7 135.2 L255 135.2M257.8 122.3 L266.1 122.1" stroke="#ccc728"/>
<path d="M221.7 171.4 L230 171.8M242.5 153.6 L235.6 147.4M255 135.2 L248.1 128.9" stroke="#cec728"/>
<path d="M214.8 164.9 L223.1 165.3M228.7 141.2 L237 141.3M248.1 128.9 L241.2 122.4" stroke="#d9c328"/>
<path d="M214.8 164.9 L208 158.5M228.7 141.2 L221.8 134.9" stroke="#e2c02a"/>
<path d="M208 158.5 L201.1 152.3M221.8 134.9 L214.9 128.6M226 115.8 L234.3 115.8" stroke="#ecbc2d"/>
<path d="M173.5 126.8 L166.6 120.1" stroke="#f5c52a"/>
<path d="M367.9 373.4 L376.2 371.8" stroke="#4229ca"/>
<path d="M367.9 373.4 L361 359.3M427.4 346.7 L435.6 344.9M435.6 344.9 L443.9 343.1" stroke="#432dd4"/>
<path d="M361 359.3 L369.3 358M419.1 348.3 L412.2 336M495.1 318.1 L503.4 316M503.4 316 L511.7 313.9M511.7 313.9 L520 311.7M520 311.7 L528.3 309.5M528.3 309.5 L536.6 307.2" stroke="#4431dd"/>
<path d="M361 359.3 L354.1 345.5M395.6 338.8 L403.9 337.4M453.6 327.9 L446.7 316.7" stroke="#4538e3"/>
<path d="M354.1 345.5 L362.4 344.4M504.8 303.7 L497.9 293.7M513.1 301.6 L506.2 291.7M521.4 299.5 L514.5 289.7" stroke="#463ee8"/>
<path d="M354.1 345.5 L347.2 332.1" stroke="#404ded"/>
<path d="M347.2 332.1 L355.5 331.2M406.7 311.2 L415 310M448.1 304.3 L441.2 293.9M491 284 L499.3 282.1" stroke="#3b59f0"/>
<path d="M347.2 332.1 L340.3 319.2M457.8 290.9 L450.9 281M500.7 270.8 L509 268.9" stroke="#3369f2"/>
<path d="M340.3 319.2 L348.6 318.5M373.5 315.3 L366.6 303.5" stroke="#2e73f1"/>
<path d="M333.4 306.8 L341.7 306.2M401.2 288.3 L394.3 278M410.9 276.1 L419.2 275.1M462 257.9 L470.3 256.3" stroke="#2786ef"/>
<path d="M319.7 283.4 L327.9 283M344.5 281.8 L337.6 271.2M370.8 269.3 L363.9 259.5M423.4 244.2 L416.5 235.7M433 233.5 L441.3 232.3M457.9 229.6 L451 221.7" stroke="#1ea0e0"/>
<path d="M319.7 283.4 L312.8 272.3M345.9 270.7 L339 260.5M373.6 249.1 L381.9 248.5M416.5 235.7 L409.6 227.5M426.2 225.5 L434.4 224.3" stroke="#1ca7db"/>
<path d="M305.9 261.8 L314.2 261.7M404.1 211 L412.4 210M420.7 209 L413.8 201.7M446.9 196.8 L440 189.8" stroke="#18b1cd"/>
<path d="M292.1 242.1 L300.4 242.1M336.3 223.8 L329.4 215.7M347.4 207.3 L355.7 206.9M375.1 190.2 L383.4 189.4" stroke="#20bbac"/>
<path d="M292.1 242.1 L285.2 232.8M319.8 224 L312.9 215.8M340.5 199.9 L348.8 199.5M377.9 175.2 L386.2 174.3" stroke="#25bda2"/>
<path d="M285.2 232.8 L278.3 224M296.3 215.8 L304.6 215.8M325.3 193 L333.6 192.7M335 185.5 L343.3 185.1M344.7 177.9 L353 177.3M380.7 160.6 L373.8 154.5" stroke="#2cbe94"/>
<path d="M278.3 224 L286.6 224.2" stroke="#2ebe90"/>
<path d="M271.4 215.6 L264.5 207.6" stroke="#4ac474"/>
<path d="M264.5 207.6 L257.6 199.8M317.2 152.5 L310.3 146.3" stroke="#66c75f"/>
<path d="M257.6 199.8 L250.7 192.4M260.4 185.8 L268.7 186M271.5 172.8 L279.8 172.9M293.7 147.1 L302 146.7" stroke="#81c94b"/>
<path d="M250.7 192.4 L259 192.8" stroke="#87c947"/>
<path d="M250.7 192.4 L243.8 185.3M261.8 179.1 L254.9 172.5M266 160.1 L274.3 160.1" stroke="#9ecb3b"/>
<path d="M243.8 185.3 L252.1 185.7" stroke="#a2cc39"/>
<path d="M236.9 178.5 L230 171.8M249.4 159.9 L242.5 153.6M261.9 141.4 L255 135.2M273 128.5 L266.1 122.1M275.8 115.1 L284.1 114.8" stroke="#c2c92c"/>
<path d="M230 171.8 L238.3 172.1M242.5 153.6 L250.8 153.8M255 135.2 L263.3 135.1" stroke="#c4c92b"/>
<path d="M230 171.8 L223.1 165.3M235.6 147.4 L243.9 147.6M266.1 122.1 L259.2 115.6" stroke="#cfc727"/>
<path d="M216.2 158.9 L224.5 159.3M230.1 135.1 L238.4 135.2" stroke="#dbc328"/>
<path d="M216.2 158.9 L209.4 152.7M230.1 135.1 L223.2 128.7" stroke="#e4bf2b"/>
<path d="M202.5 146.4 L210.7 146.8M210.7 146.8 L203.9 140.5M223.2 128.7 L216.3 122.2" stroke="#eebb2e"/>
<path d="M202.5 146.4 L195.6 140.1M208.1 122 L216.3 122.2" stroke="#f1b631"/>
<path d="M376.2 371.8 L384.5 370" stroke="#4229c9"/>
<path d="M376.2 371.8 L369.3 358M443.9 343.1 L452.2 341.2" stroke="#432cd3"/>
<path d="M362.4 344.4 L370.7 343" stroke="#463ce7"/>
<path d="M362.4 344.4 L355.5 331.2M473 299.3 L481.3 297.5" stroke="#424aec"/>
<path d="M355.5 331.2 L363.8 330" stroke="#3d56ef"/>
<path d="M355.5 331.2 L348.6 318.5M432.9 295.3 L441.2 293.9M474.4 287.6 L467.5 277.9" stroke="#3565f1"/>
<path d="M348.6 318.5 L341.7 306.2M366.6 303.5 L374.9 302.7M409.5 287.3 L417.8 286.2M460.6 268.5 L468.9 266.9" stroke="#2b7bf1"/>
<path d="M341.7 306.2 L350 305.4M478.6 254.7 L486.9 253" stroke="#2883ef"/>
<path d="M334.8 294.4 L343.1 293.7M359.7 292.1 L352.8 281.2" stroke="#2293e9"/>
<path d="M334.8 294.4 L327.9 283M344.5 281.8 L352.8 281.2M464.8 237.7 L457.9 229.6" stroke="#209ae5"/>
<path d="M327.9 283 L336.2 282.5M474.5 226.6 L467.6 218.8" stroke="#1f9ee1"/>
<path d="M327.9 283 L321.1 272.1M337.6 271.2 L345.9 270.7M380.5 258.4 L373.6 249.1M406.8 246.2 L399.9 237.6M433 233.5 L426.2 225.5M442.7 223 L451 221.7M467.6 218.8 L460.7 211.3" stroke="#1da4dd"/>
<path d="M314.2 261.7 L322.4 261.4M411 218.7 L404.1 211M412.4 210 L420.7 209M438.6 198.1 L446.9 196.8" stroke="#18afcf"/>
<path d="M314.2 261.7 L307.3 251.7M386.1 221.2 L379.2 213.4" stroke="#17b3c9"/>
<path d="M307.3 251.7 L315.6 251.4M341.8 241.2 L334.9 232.4M343.2 232.2 L351.5 231.9M431.7 191.1 L424.9 184.3" stroke="#17b5c4"/>
<path d="M300.4 242.1 L293.5 233M328 223.9 L321.1 215.8M339.1 207.6 L347.4 207.3M365.4 198.5 L358.5 191.5M376.5 182.6 L384.8 181.8" stroke="#22bca7"/>
<path d="M293.5 233 L286.6 224.2M359.9 184 L353 177.3M397.3 158.6 L390.4 152.5" stroke="#29be9a"/>
<path d="M286.6 224.2 L294.9 224.2M351.6 184.6 L344.7 177.9M372.4 161.6 L380.7 160.6M398.7 151.4 L391.8 145.4" stroke="#2bbe96"/>
<path d="M265.9 200.1 L274.2 200.3M328.2 138.6 L336.5 137.9" stroke="#5dc665"/>
<path d="M265.9 200.1 L259 192.8M308.9 152.9 L302 146.7M311.7 139.7 L319.9 139.2" stroke="#71c756"/>
<path d="M259 192.8 L267.3 192.9" stroke="#77c852"/>
<path d="M259 192.8 L252.1 185.7M281.2 166.4 L274.3 160.1" stroke="#8cca45"/>
<path d="M252.1 185.7 L260.4 185.8M263.2 172.6 L271.5 172.8M314.5 126.4 L307.6 120.3" stroke="#92ca42"/>
<path d="M252.1 185.7 L245.2 178.8M286.8 140.9 L279.9 134.7" stroke="#a6cc38"/>
<path d="M245.2 178.8 L238.3 172.1M261.9 141.4 L270.2 141.3M291 121.2 L284.1 114.8" stroke="#b9cc30"/>
<path d="M238.3 172.1 L231.4 165.7M250.8 153.8 L243.9 147.6M266.1 122.1 L274.4 121.9" stroke="#c5c92b"/>
<path d="M224.5 159.3 L232.8 159.5M245.3 141.4 L238.4 135.2" stroke="#d3c627"/>
<path d="M217.6 153 L225.9 153.3M238.4 135.2 L231.5 128.8" stroke="#ddc229"/>
<path d="M210.7 146.8 L219 147" stroke="#e6be2b"/>
<path d="M197 134.2 L205.3 134.5" stroke="#f2b532"/>
<path d="M384.5 370 L392.8 368" stroke="#4228c9"/>
<path d="M384.5 370 L377.6 356.4M452.2 341.2 L460.5 339.2M460.5 339.2 L468.8 337.2M468.8 337.2 L477.1 335.1M477.1 335.1 L485.4 333" stroke="#432cd2"/>
<path d="M370.7 343 L363.8 330M497.9 293.7 L506.2 291.7" stroke="#4347eb"/>
<path d="M356.9 317.5 L350 305.4M399.8 300.1 L392.9 289.2M477.2 265.3 L485.5 263.6" stroke="#2c79f1"/>
<path d="M350 305.4 L358.3 304.4M417.8 286.2 L410.9 276.1M468.9 266.9 L462 257.9" stroke="#2981f0"/>
<path d="M343.1 293.7 L351.4 292.9M368 291.5 L361.1 280.7M377.7 279.5 L386 278.8M437.1 262 L430.2 253M488.3 242.8 L481.4 234.6" stroke="#2391eb"/>
<path d="M336.2 282.5 L329.3 271.7M362.5 269.8 L355.6 259.9" stroke="#1ea2de"/>
<path d="M329.3 271.7 L337.6 271.2M372.2 259 L365.3 249.6" stroke="#1da6db"/>
<path d="M322.4 261.4 L330.7 260.9M384.7 230 L393 229.2M401.3 228.4 L394.4 220.4M428.9 207.8 L437.2 206.6M453.8 203.9 L446.9 196.8" stroke="#19add2"/>
<path d="M315.6 251.4 L308.7 242" stroke="#19b7bd"/>
<path d="M301.8 232.9 L294.9 224.2M348.8 199.5 L341.9 192.4M369.6 176 L377.9 175.2M397.3 158.6 L405.6 157.5" stroke="#26bd9f"/>
<path d="M294.9 224.2 L303.2 224.1M330.8 207.8 L323.9 200.4M340.5 199.9 L333.6 192.7M361.3 176.7 L369.6 176M387.6 166.9 L380.7 160.6" stroke="#28be9b"/>
<path d="M281.1 207.9 L274.2 200.3" stroke="#4ac375"/>
<path d="M274.2 200.3 L282.5 200.3M313 172.5 L306.1 166M353.1 136.4 L346.2 130.4" stroke="#50c470"/>
<path d="M274.2 200.3 L267.3 192.9M306.1 166 L299.2 159.7M326.8 145.3 L319.9 139.2" stroke="#63c661"/>
<path d="M267.3 192.9 L275.6 193M296.4 172.8 L289.5 166.4" stroke="#68c75d"/>
<path d="M267.3 192.9 L260.4 185.8M331 125.1 L324.1 119.1" stroke="#7bc84e"/>
<path d="M260.4 185.8 L253.5 179M286.8 140.9 L295.1 140.6M307.6 120.3 L315.8 119.7" stroke="#96cb3f"/>
<path d="M253.5 179 L261.8 179.1" stroke="#9acb3d"/>
<path d="M253.5 179 L246.6 172.4" stroke="#aecd34"/>
<path d="M239.7 165.9 L248 166.1M252.2 147.6 L260.5 147.7" stroke="#beca2e"/>
<path d="M212.1 140.8 L220.4 141" stroke="#e8be2c"/>
<path d="M392.8 368 L401.1 366.1M401.1 366.1 L409.4 364.3M409.4 364.3 L417.7 362.5M417.7 362.5 L426 360.6M426 360.6 L434.2 358.7M434.2 358.7 L442.5 356.7M442.5 356.7 L450.8 354.6M450.8 354.6 L459.1 352.5M459.1 352.5 L467.4 350.3M467.4 350.3 L475.7 348.1M475.7 348.1 L484 345.9M484 345.9 L492.3 343.6M492.3 343.6 L500.6 341.4M500.6 341.4 L508.9 339.2M508.9 339.2 L517.2 336.9M517.2 336.9 L525.5 334.7M525.5 334.7 L533.8 332.4M533.8 332.4 L542 330.2M542 330.2 L550.3 327.9" stroke="#4228c8"/>
<path d="M379 341.5 L387.3 340.1M471.6 311.5 L479.9 309.6" stroke="#463be5"/>
<path d="M379 341.5 L372.1 328.7M405.3 324 L413.6 322.7" stroke="#4345ea"/>
<path d="M372.1 328.7 L380.4 327.5M489.6 295.6 L482.7 285.8" stroke="#3f51ee"/>
<path d="M365.2 316.4 L373.5 315.3M398.4 312.3 L391.5 301M416.4 297.8 L424.7 296.6M492.4 272.7 L500.7 270.8" stroke="#326af2"/>
<path d="M358.3 304.4 L366.6 303.5M485.5 263.6 L478.6 254.7" stroke="#2a7ef0"/>
<path d="M351.4 292.9 L359.7 292.1M376.3 290.8 L369.4 280.1M386 278.8 L394.3 278M410.9 276.1 L404 266.4M420.6 264.4 L428.9 263.2M471.7 246.1 L480 244.5" stroke="#248eec"/>
<path d="M330.7 260.9 L339 260.5" stroke="#1aacd5"/>
<path d="M323.8 251.1 L317 241.7M325.2 241.5 L333.5 241.4" stroke="#18b5c3"/>
<path d="M317 241.7 L325.2 241.5M362.6 214.5 L370.9 214M433.1 183.1 L426.2 176.5" stroke="#1ab7bd"/>
<path d="M310.1 232.7 L318.4 232.6M337.7 215.5 L346 215.3M364 206.4 L357.1 199.1M391.7 188.6 L384.8 181.8M393.1 180.9 L401.4 179.9M409.7 178.8 L402.8 172.3M411.1 171.2 L419.4 170" stroke="#1fbaad"/>
<path d="M310.1 232.7 L303.2 224.1M321.1 215.8 L329.4 215.7" stroke="#24bca4"/>
<path d="M303.2 224.1 L311.5 224M339.1 207.6 L332.2 200.2M359.9 184 L368.2 183.4M386.2 174.3 L379.3 167.9" stroke="#26bda0"/>
<path d="M296.3 215.8 L289.4 207.9M306 208 L299.1 200.4M328.1 178.7 L336.4 178.4M337.8 171.4 L346.1 170.8M347.5 163.8 L355.8 163.2M357.2 156.2 L365.5 155.4" stroke="#34c08a"/>
<path d="M289.4 207.9 L297.7 207.9" stroke="#38c086"/>
<path d="M282.5 200.3 L275.6 193M303.3 179.4 L296.4 172.8M336.5 137.9 L344.8 137.2M355.9 122.7 L364.2 121.8" stroke="#55c56c"/>
<path d="M275.6 193 L283.9 193.1" stroke="#5bc568"/>
<path d="M275.6 193 L268.7 186M300.6 153.2 L308.9 152.9M318.5 145.8 L311.7 139.7M340.7 117.6 L349 116.8" stroke="#6dc759"/>
<path d="M268.7 186 L277 186.1M339.3 124.4 L332.4 118.4" stroke="#72c755"/>
<path d="M268.7 186 L261.8 179.1" stroke="#85c948"/>
<path d="M261.8 179.1 L270.1 179.3M325.5 112.3 L333.8 111.6" stroke="#8aca46"/>
<path d="M254.9 172.5 L263.2 172.6M299.3 120.8 L307.6 120.3" stroke="#a2cc3a"/>
<path d="M241.1 159.7 L234.2 153.5M253.6 141.5 L246.7 135.2" stroke="#cbc829"/>
<path d="M234.2 153.5 L227.3 147.3M246.7 135.2 L239.8 128.9M257.8 122.3 L250.9 115.7" stroke="#d6c527"/>
<path d="M401.1 366.1 L394.2 353" stroke="#432bd1"/>
<path d="M394.2 353 L402.5 351.5M460.5 339.2 L453.6 327.9M468.8 337.2 L461.9 326M477.1 335.1 L470.2 324.1" stroke="#442fd9"/>
<path d="M394.2 353 L387.3 340.1" stroke="#4534e0"/>
<path d="M387.3 340.1 L395.6 338.8M496.5 305.7 L504.8 303.7M504.8 303.7 L513.1 301.6M513.1 301.6 L521.4 299.5" stroke="#453ae4"/>
<path d="M387.3 340.1 L380.4 327.5M413.6 322.7 L421.9 321.4" stroke="#4442e9"/>
<path d="M373.5 315.3 L381.8 314.3M424.7 296.6 L432.9 295.3M466.1 289.2 L459.2 279.5" stroke="#3467f1"/>
<path d="M352.8 281.2 L345.9 270.7M379.1 268.7 L372.2 259M405.4 256.1 L398.5 247.1M449.6 231 L457.9 229.6" stroke="#1f9ee2"/>
<path d="M332.1 250.8 L325.2 241.5M333.5 241.4 L341.8 241.2M422.1 200.6 L415.2 193.5M423.5 192.3 L431.7 191.1" stroke="#16b4c8"/>
<path d="M318.4 232.6 L311.5 224M355.7 206.9 L348.8 199.5M383.4 189.4 L376.5 182.6" stroke="#21bba9"/>
<path d="M311.5 224 L319.8 224M358.5 191.5 L366.8 190.9M386.2 174.3 L394.5 173.3" stroke="#23bca5"/>
<path d="M304.6 215.8 L312.9 215.8M314.3 208 L322.5 207.9M369.6 176 L362.7 169.5M380.7 160.6 L389 159.7" stroke="#29be99"/>
<path d="M297.7 207.9 L306 208M344.7 177.9 L337.8 171.4M354.4 170.2 L347.5 163.8M375.2 147.4 L383.5 146.4" stroke="#31bf8d"/>
<path d="M297.7 207.9 L290.8 200.4M310.2 186.2 L318.5 186M337.8 171.4 L330.9 165M347.5 163.8 L340.6 157.6M366.9 148.4 L360 142.4" stroke="#3bc183"/>
<path d="M290.8 200.4 L283.9 193.1M351.7 143.2 L344.8 137.2M361.4 135.5 L354.5 129.5" stroke="#48c376"/>
<path d="M283.9 193.1 L292.2 193.2M301.9 186.2 L295 179.5" stroke="#4dc472"/>
<path d="M277 186.1 L285.3 186.2" stroke="#64c660"/>
<path d="M270.1 179.3 L278.4 179.4M340.7 117.6 L333.8 111.6" stroke="#7ac84f"/>
<path d="M270.1 179.3 L263.2 172.6" stroke="#8eca44"/>
<path d="M263.2 172.6 L256.3 166.2M289.6 127.8 L297.9 127.4" stroke="#a5cc38"/>
<path d="M256.3 166.2 L249.4 159.9M282.7 121.6 L291 121.2" stroke="#b6cc30"/>
<path d="M249.4 159.9 L257.7 160" stroke="#b8cc30"/>
<path d="M402.5 351.5 L410.8 350M485.4 333 L478.5 322.1M493.7 330.9 L486.8 320.1M502 328.7 L495.1 318.1M510.3 326.5 L503.4 316" stroke="#442ed8"/>
<path d="M388.7 326.4 L397 325.2M464.7 301 L473 299.3" stroke="#414bec"/>
<path d="M388.7 326.4 L381.8 314.3" stroke="#3c59f0"/>
<path d="M381.8 314.3 L390.1 313.4M415 310 L408.1 299M491 284 L484.1 274.5" stroke="#3663f1"/>
<path d="M326.6 232.5 L319.8 224M365.4 198.5 L373.7 197.9" stroke="#1fbaae"/>
<path d="M319.8 224 L328 223.9M346 215.3 L339.1 207.6M357.1 199.1 L365.4 198.5M384.8 181.8 L393.1 180.9" stroke="#20bbaa"/>
<path d="M306 208 L314.3 208M315.7 200.4 L323.9 200.4M354.4 170.2 L362.7 169.5M364.1 162.4 L372.4 161.6M390.4 152.5 L383.5 146.4" stroke="#2cbe93"/>
<path d="M292.2 193.2 L285.3 186.2M333.7 151.4 L326.8 145.3" stroke="#52c46f"/>
<path d="M285.3 186.2 L293.6 186.2M326.8 145.3 L335.1 144.7" stroke="#56c56b"/>
<path d="M285.3 186.2 L278.4 179.4" stroke="#67c75d"/>
<path d="M278.4 179.4 L286.7 179.5" stroke="#6bc75a"/>
<path d="M278.4 179.4 L271.5 172.8" stroke="#7dc94d"/>
<path d="M271.5 172.8 L264.6 166.3M304.8 133.6 L297.9 127.4M317.2 112.9 L325.5 112.3" stroke="#95cb40"/>
<path d="M257.7 160 L266 160.1M277.1 147.5 L270.2 141.3M288.2 134.4 L281.3 128.2M291 121.2 L299.3 120.8" stroke="#adcd34"/>
<path d="M257.7 160 L250.8 153.8" stroke="#b9cb2f"/>
<path d="M397 325.2 L405.3 324M438.4 318.4 L431.5 307.3M489.6 295.6 L497.9 293.7" stroke="#4248eb"/>
<path d="M397 325.2 L390.1 313.4M464.7 301 L457.8 290.9" stroke="#3d55ef"/>
<path d="M390.1 313.4 L398.4 312.3M515.9 278.1 L509 268.9" stroke="#3860f1"/>
<path d="M390.1 313.4 L383.2 301.9M441.2 293.9 L434.3 283.7" stroke="#306df2"/>
<path d="M383.2 301.9 L391.5 301M467.5 277.9 L460.6 268.5" stroke="#2d75f1"/>
<path d="M369.4 280.1 L362.5 269.8M405.4 256.1 L413.7 255.1M430.2 253 L423.4 244.2M439.9 241.9 L448.2 240.6M473.1 236.2 L466.2 228.1" stroke="#2199e5"/>
<path d="M334.9 232.4 L343.2 232.2M397.2 203.6 L390.3 196.4" stroke="#19b6bf"/>
<path d="M334.9 232.4 L328 223.9M362.6 214.5 L355.7 206.9" stroke="#1cb9b4"/>
<path d="M328 223.9 L336.3 223.8M354.3 214.9 L347.4 207.3M382 197.2 L375.1 190.2" stroke="#1ebaaf"/>
<path d="M307.4 200.5 L315.7 200.4" stroke="#31bf8e"/>
<path d="M300.5 193.2 L308.8 193.2M340.6 157.6 L348.9 156.9M350.3 150 L358.6 149.2" stroke="#3dc181"/>
<path d="M293.6 186.2 L286.7 179.5" stroke="#5ac568"/>
<path d="M286.7 179.5 L279.8 172.9M297.8 166.3 L290.9 159.9" stroke="#6fc757"/>
<path d="M279.8 172.9 L288.1 172.9" stroke="#72c855"/>
<path d="M279.8 172.9 L272.9 166.4M332.4 118.4 L325.5 112.3" stroke="#85c949"/>
<path d="M272.9 166.4 L281.2 166.4" stroke="#88ca47"/>
<path d="M272.9 166.4 L266 160.1M315.8 119.7 L309 113.5" stroke="#9bcb3d"/>
<path d="M259.1 153.8 L267.4 153.9" stroke="#b1cd32"/>
<path d="M245.3 141.4 L253.6 141.5" stroke="#c9c829"/>
<path d="M419.1 348.3 L427.4 346.7" stroke="#432dd5"/>
<path d="M412.2 336 L405.3 324M455 315 L463.3 313.3" stroke="#463ce6"/>
<path d="M405.3 324 L398.4 312.3M431.5 307.3 L439.8 305.9" stroke="#3e52ee"/>
<path d="M398.4 312.3 L406.7 311.2" stroke="#3a5df0"/>
<path d="M391.5 301 L399.8 300.1M442.6 282.4 L450.9 281" stroke="#2e72f2"/>
<path d="M384.6 290.1 L392.9 289.2M409.5 287.3 L402.6 277.1" stroke="#2883f0"/>
<path d="M377.7 279.5 L370.8 269.3M456.5 239.2 L464.8 237.7" stroke="#2197e7"/>
<path d="M363.9 259.5 L372.2 259" stroke="#1da3de"/>
<path d="M363.9 259.5 L357 250" stroke="#1ca8d9"/>
<path d="M357 250 L365.3 249.6M401.3 228.4 L409.6 227.5M427.5 216.5 L435.8 215.3" stroke="#1baad6"/>
<path d="M343.2 232.2 L336.3 223.8M372.3 205.8 L380.6 205.2" stroke="#1bb7ba"/>
<path d="M336.3 223.8 L344.6 223.6M364 206.4 L372.3 205.8" stroke="#1cb9b5"/>
<path d="M329.4 215.7 L337.7 215.5M366.8 190.9 L375.1 190.2M411.1 171.2 L404.2 164.8" stroke="#21bba8"/>
<path d="M322.5 207.9 L330.8 207.8M368.2 183.4 L361.3 176.7" stroke="#27bd9e"/>
<path d="M308.8 193.2 L317.1 193.1M346.1 170.8 L339.2 164.4M355.8 163.2 L348.9 156.9M365.5 155.4 L358.6 149.2M376.6 140.5 L384.9 139.4" stroke="#36c088"/>
<path d="M308.8 193.2 L301.9 186.2M339.2 164.4 L332.3 158.2M348.9 156.9 L342 150.8M358.6 149.2 L351.7 143.2M368.3 141.4 L361.4 135.5" stroke="#3fc27f"/>
<path d="M295 179.5 L288.1 172.9M336.5 137.9 L329.6 131.9" stroke="#61c662"/>
<path d="M281.2 166.4 L289.5 166.4M292.3 153.5 L300.6 153.2M313.1 133.1 L321.3 132.5" stroke="#79c850"/>
<path d="M274.3 160.1 L282.6 160.1" stroke="#8fca43"/>
<path d="M267.4 153.9 L275.7 153.8" stroke="#a4cc39"/>
<path d="M434.2 358.7 L427.4 346.7" stroke="#432acd"/>
<path d="M427.4 346.7 L420.5 334.6" stroke="#4431dc"/>
<path d="M420.5 334.6 L428.8 333M511.7 313.9 L504.8 303.7M520 311.7 L513.1 301.6M528.3 309.5 L521.4 299.5M536.6 307.2 L529.7 297.3" stroke="#4535e1"/>
<path d="M413.6 322.7 L406.7 311.2M514.5 289.7 L507.6 280.1" stroke="#3f4fed"/>
<path d="M406.7 311.2 L399.8 300.1" stroke="#3466f1"/>
<path d="M399.8 300.1 L408.1 299M432.9 295.3 L426.1 285" stroke="#2f6ff2"/>
<path d="M392.9 289.2 L401.2 288.3M435.7 272.7 L444 271.4" stroke="#2980f0"/>
<path d="M365.3 249.6 L373.6 249.1M408.2 236.7 L401.3 228.4M434.4 224.3 L427.5 216.5M444.1 214 L452.4 212.7" stroke="#1ca9d9"/>
<path d="M365.3 249.6 L358.4 240.6M411 218.7 L419.3 217.6" stroke="#1aacd3"/>
<path d="M358.4 240.6 L351.5 231.9M359.8 231.6 L368.1 231.1M376.4 230.6 L369.5 222.4M377.8 221.8 L386.1 221.2M394.4 220.4 L387.5 212.7M438.6 198.1 L431.7 191.1" stroke="#17b2cc"/>
<path d="M344.6 223.6 L352.9 223.3M390.3 196.4 L398.6 195.5M406.9 194.5 L400 187.6" stroke="#1ab7bb"/>
<path d="M337.7 215.5 L330.8 207.8M348.8 199.5 L357.1 199.1M375.1 190.2 L368.2 183.4M402.8 172.3 L395.9 165.9M404.2 164.8 L412.5 163.7" stroke="#23bca6"/>
<path d="M323.9 200.4 L332.2 200.2M333.6 192.7 L341.9 192.4M379.3 167.9 L372.4 161.6" stroke="#29be98"/>
<path d="M303.3 179.4 L311.6 179.3M321.2 172.2 L314.4 165.8M333.7 151.4 L342 150.8M362.8 128.6 L371.1 127.7" stroke="#46c378"/>
<path d="M282.6 160.1 L290.9 159.9M311.7 139.7 L304.8 133.6M324.1 119.1 L332.4 118.4" stroke="#80c94c"/>
<path d="M282.6 160.1 L275.7 153.8M293.7 147.1 L286.8 140.9" stroke="#92ca41"/>
<path d="M275.7 153.8 L284 153.7" stroke="#96cb40"/>
<path d="M275.7 153.8 L268.8 147.6" stroke="#a7cc37"/>
<path d="M241.2 122.4 L234.3 115.8" stroke="#e3c02b"/>
<path d="M421.9 321.4 L415 310" stroke="#404dec"/>
<path d="M401.2 288.3 L409.5 287.3M493.8 261.8 L486.9 253" stroke="#2a7df0"/>
<path d="M352.9 223.3 L361.2 222.9" stroke="#18b6c0"/>
<path d="M352.9 223.3 L346 215.3" stroke="#1cb8b7"/>
<path d="M318.5 186 L311.6 179.3M330.9 165 L339.2 164.4M360 142.4 L368.3 141.4" stroke="#3dc281"/>
<path d="M304.7 172.7 L313 172.5M322.6 165.4 L315.8 159.1M335.1 144.7 L343.4 144M354.5 129.5 L362.8 128.6" stroke="#4dc473"/>
<path d="M304.7 172.7 L297.8 166.3M347.6 123.6 L355.9 122.7" stroke="#5cc666"/>
<path d="M290.9 159.9 L299.2 159.7" stroke="#72c854"/>
<path d="M277.1 147.5 L285.4 147.3" stroke="#9ccb3c"/>
<path d="M263.3 135.1 L256.4 128.8" stroke="#c6c92b"/>
<path d="M430.2 319.9 L438.4 318.4" stroke="#463fe8"/>
<path d="M430.2 319.9 L423.3 308.7" stroke="#414aec"/>
<path d="M423.3 308.7 L431.5 307.3" stroke="#3d54ef"/>
<path d="M423.3 308.7 L416.4 297.8M449.5 292.4 L457.8 290.9" stroke="#3760f1"/>
<path d="M416.4 297.8 L409.5 287.3M434.3 283.7 L442.6 282.4M475.8 276.2 L468.9 266.9" stroke="#2e74f1"/>
<path d="M402.6 277.1 L410.9 276.1M427.5 273.9 L420.6 264.4M445.4 260.7 L453.7 259.4M478.6 254.7 L471.7 246.1" stroke="#2689ee"/>
<path d="M388.8 257.7 L381.9 248.5M415.1 245.3 L408.2 236.7M459.3 220.3 L467.6 218.8" stroke="#1ea2df"/>
<path d="M347.4 207.3 L340.5 199.9M384.8 181.8 L377.9 175.2" stroke="#23bca4"/>
<path d="M326.7 185.8 L335 185.5M355.8 163.2 L364.1 162.4" stroke="#2fbf8f"/>
<path d="M319.8 179 L313 172.5M322.6 165.4 L330.9 165" stroke="#42c27c"/>
<path d="M313 172.5 L321.2 172.2M369.7 134.5 L362.8 128.6" stroke="#44c37a"/>
<path d="M306.1 166 L314.4 165.8M324 158.7 L317.2 152.5M346.2 130.4 L354.5 129.5" stroke="#54c56d"/>
<path d="M299.2 159.7 L307.5 159.5" stroke="#66c75e"/>
<path d="M292.3 153.5 L285.4 147.3" stroke="#8bca46"/>
<path d="M278.5 141.1 L286.8 140.9" stroke="#a3cc39"/>
<path d="M271.6 134.9 L279.9 134.7M292.4 114.4 L300.7 114" stroke="#b4cc31"/>
<path d="M264.7 128.7 L273 128.5M282.7 121.6 L275.8 115.1" stroke="#c0ca2d"/>
<path d="M250.9 115.7 L259.2 115.6" stroke="#d8c427"/>
<path d="M459.1 352.5 L452.2 341.2" stroke="#4229cc"/>
<path d="M445.3 329.7 L438.4 318.4" stroke="#4539e3"/>
<path d="M431.5 307.3 L424.7 296.6" stroke="#395ef1"/>
<path d="M424.7 296.6 L417.8 286.2M450.9 281 L459.2 279.5M500.7 270.8 L493.8 261.8" stroke="#2f71f2"/>
<path d="M397.1 257 L405.4 256.1M456.5 239.2 L449.6 231" stroke="#209be4"/>
<path d="M397.1 257 L390.2 247.9" stroke="#1fa0e0"/>
<path d="M383.3 239.1 L391.6 238.4" stroke="#1baad8"/>
<path d="M369.5 222.4 L362.6 214.5M423.5 192.3 L416.6 185.5M424.9 184.3 L433.1 183.1" stroke="#18b6c1"/>
<path d="M355.7 206.9 L364 206.4M383.4 189.4 L391.7 188.6M400 187.6 L393.1 180.9M401.4 179.9 L409.7 178.8M418 177.7 L411.1 171.2" stroke="#1ebab0"/>
<path d="M307.5 159.5 L315.8 159.1M325.4 152 L318.5 145.8" stroke="#5bc667"/>
<path d="M307.5 159.5 L300.6 153.2" stroke="#6ac75b"/>
<path d="M300.6 153.2 L293.7 147.1M321.3 132.5 L314.5 126.4" stroke="#7dc84d"/>
<path d="M273 128.5 L281.3 128.2" stroke="#b9cc2f"/>
<path d="M259.2 115.6 L267.5 115.4" stroke="#d1c626"/>
<path d="M446.7 316.7 L439.8 305.9M514.5 289.7 L522.8 287.6" stroke="#4346ea"/>
<path d="M439.8 305.9 L432.9 295.3M474.4 287.6 L482.7 285.8" stroke="#3a5bf0"/>
<path d="M426.1 285 L419.2 275.1M444 271.4 L452.3 270" stroke="#297ef0"/>
<path d="M419.2 275.1 L412.3 265.4M428.9 263.2 L437.1 262M462 257.9 L455.1 249.1" stroke="#258ced"/>
<path d="M412.3 265.4 L405.4 256.1" stroke="#2296e8"/>
<path d="M377.8 221.8 L370.9 214M379.2 213.4 L387.5 212.7M397.2 203.6 L405.5 202.7M413.8 201.7 L406.9 194.5" stroke="#17b4c6"/>
<path d="M350.2 192 L343.3 185.1M371 168.7 L379.3 167.9" stroke="#28be9a"/>
<path d="M336.4 178.4 L344.7 177.9M346.1 170.8 L354.4 170.2" stroke="#2fbe8f"/>
<path d="M315.8 159.1 L324 158.7M343.4 144 L336.5 137.9" stroke="#51c470"/>
<path d="M308.9 152.9 L317.2 152.5" stroke="#62c661"/>
<path d="M302 146.7 L310.3 146.3" stroke="#74c853"/>
<path d="M302 146.7 L295.1 140.6M304.8 133.6 L313.1 133.1" stroke="#84c949"/>
<path d="M295.1 140.6 L303.4 140.2M313.1 133.1 L306.2 127" stroke="#89ca47"/>
<path d="M295.1 140.6 L288.2 134.4" stroke="#99cb3d"/>
<path d="M288.2 134.4 L296.5 134" stroke="#9dcb3c"/>
<path d="M461.9 326 L470.2 324.1" stroke="#4433de"/>
<path d="M455 315 L448.1 304.3" stroke="#4444ea"/>
<path d="M441.2 293.9 L449.5 292.4" stroke="#3662f1"/>
<path d="M399.9 237.6 L408.2 236.7M451 221.7 L444.1 214" stroke="#1ca6db"/>
<path d="M393 229.2 L386.1 221.2M394.4 220.4 L402.7 219.6M437.2 206.6 L430.3 199.4" stroke="#19afd0"/>
<path d="M330.9 165 L324 158.7" stroke="#45c37a"/>
<path d="M317.2 152.5 L325.4 152" stroke="#58c56a"/>
<path d="M310.3 146.3 L318.5 145.8M337.9 131.2 L331 125.1M347.6 123.6 L340.7 117.6M357.3 115.9 L350.4 110" stroke="#69c75c"/>
<path d="M296.5 134 L304.8 133.6" stroke="#91ca42"/>
<path d="M456.4 302.7 L464.7 301" stroke="#404cec"/>
<path d="M428.9 263.2 L422 254.1" stroke="#2393ea"/>
<path d="M422 254.1 L430.2 253M464.8 237.7 L473.1 236.2" stroke="#2296e7"/>
<path d="M408.2 236.7 L416.5 235.7" stroke="#1da5dd"/>
<path d="M380.6 205.2 L373.7 197.9M382 197.2 L390.3 196.4M418 177.7 L426.2 176.5" stroke="#1cb8b6"/>
<path d="M366.8 190.9 L359.9 184" stroke="#24bda2"/>
<path d="M339.2 164.4 L347.5 163.8M348.9 156.9 L357.2 156.2M384.9 139.4 L378 133.5" stroke="#38c186"/>
<path d="M332.3 158.2 L325.4 152" stroke="#4ac475"/>
<path d="M297.9 127.4 L291 121.2" stroke="#a9cc36"/>
<path d="M471.6 311.5 L464.7 301" stroke="#4542e9"/>
<path d="M402.7 219.6 L411 218.7" stroke="#19aed2"/>
<path d="M388.9 204.4 L382 197.2M408.3 186.6 L416.6 185.5M424.9 184.3 L418 177.7" stroke="#1ab7ba"/>
<path d="M361.3 176.7 L354.4 170.2M371 168.7 L364.1 162.4M382.1 153.5 L390.4 152.5" stroke="#2bbe95"/>
<path d="M340.6 157.6 L333.7 151.4" stroke="#44c37b"/>
<path d="M306.2 127 L299.3 120.8" stroke="#9dcb3b"/>
<path d="M299.3 120.8 L292.4 114.4" stroke="#b1cd33"/>
<path d="M486.8 320.1 L495.1 318.1" stroke="#4432dd"/>
<path d="M473 299.3 L466.1 289.2" stroke="#3e54ef"/>
<path d="M459.2 279.5 L467.5 277.9" stroke="#306ff2"/>
<path d="M459.2 279.5 L452.3 270M493.8 261.8 L502.1 260" stroke="#2d77f1"/>
<path d="M445.4 260.7 L438.5 251.8M463.4 247.6 L471.7 246.1" stroke="#248fec"/>
<path d="M390.3 196.4 L383.4 189.4M391.7 188.6 L400 187.6M409.7 178.8 L418 177.7M426.2 176.5 L419.4 170" stroke="#1db9b3"/>
<path d="M335.1 144.7 L328.2 138.6" stroke="#59c568"/>
<path d="M328.2 138.6 L321.3 132.5" stroke="#6bc75b"/>
<path d="M321.3 132.5 L329.6 131.9" stroke="#6fc758"/>
<path d="M314.5 126.4 L322.7 125.8" stroke="#82c94b"/>
<path d="M307.6 120.3 L300.7 114" stroke="#a6cc37"/>
<path d="M300.7 114 L309 113.5" stroke="#abcc35"/>
<path d="M488.2 307.7 L481.3 297.5" stroke="#4540e8"/>
<path d="M481.3 297.5 L474.4 287.6" stroke="#3e53ee"/>
<path d="M329.6 131.9 L337.9 131.2" stroke="#65c75f"/>
<path d="M322.7 125.8 L331 125.1" stroke="#77c851"/>
<path d="M315.8 119.7 L324.1 119.1" stroke="#8bca45"/>
<path d="M309 113.5 L317.2 112.9" stroke="#a0cc3a"/>
<path d="M482.7 285.8 L475.8 276.2" stroke="#3664f1"/>
<path d="M475.8 276.2 L484.1 274.5" stroke="#316cf2"/>
<path d="M372.4 161.6 L365.5 155.4M383.5 146.4 L391.8 145.4" stroke="#2ebe91"/>
<path d="M344.8 137.2 L353.1 136.4" stroke="#4cc473"/>
<path d="M344.8 137.2 L337.9 131.2M354.5 129.5 L347.6 123.6" stroke="#58c569"/>
<path d="M337.9 131.2 L346.2 130.4" stroke="#5dc666"/>
<path d="M331 125.1 L339.3 124.4" stroke="#6dc758"/>
<path d="M324.1 119.1 L317.2 112.9" stroke="#90ca43"/>
<path d="M387.6 166.9 L395.9 165.9" stroke="#25bda0"/>
<path d="M346.2 130.4 L339.3 124.4M355.9 122.7 L349 116.8" stroke="#60c663"/>
<path d="M506.2 291.7 L499.3 282.1" stroke="#3f50ed"/>
<path d="M499.3 282.1 L507.6 280.1M507.6 280.1 L515.9 278.1" stroke="#3c58f0"/>
<path d="M492.4 272.7 L485.5 263.6" stroke="#2f72f2"/>
<path d="M485.5 263.6 L493.8 261.8" stroke="#2c77f1"/>
<path d="M382.1 153.5 L375.2 147.4" stroke="#2fbe90"/>
<path d="M333.8 111.6 L342.1 110.8" stroke="#7fc94c"/>
<path d="M349 116.8 L342.1 110.8" stroke="#71c755"/>
<path d="M371.1 127.7 L364.2 121.8" stroke="#49c375"/>
</g>
<path d="M305.8 404.5 L84.3 303 M305.8 404.5 L594.4 326.8 M85 303 L78.2 299.9 M85 258.5 L78.2 255.3 M85 213.9 L78.2 210.8 M85 169.4 L78.2 166.3 M85 124.8 L78.2 121.7 M85 80.3 L78.2 77.2 M305.8 404.5 L298.5 406.4 M250.4 379.1 L243.2 381.1 M195 353.7 L187.8 355.7 M139.7 328.4 L132.4 330.3 M84.3 303 L77 304.9 M305.8 404.5 L312.6 407.6 M353.9 391.5 L360.7 394.7 M402 378.6 L408.8 381.7 M450.1 365.6 L456.9 368.8 M498.2 352.7 L505 355.8 M546.3 339.7 L553.1 342.8 M594.4 326.8 L601.2 329.9" stroke="#262626" stroke-width="1.4" fill="none"/>
<defs><linearGradient id="cb" x1="0" y1="1" x2="0" y2="0"><stop offset="0.0000" stop-color="#4228c8"/><stop offset="0.0078" stop-color="#4229cb"/><stop offset="0.0156" stop-color="#432acd"/><stop offset="0.0234" stop-color="#432bd0"/><stop offset="0.0312" stop-color="#432cd2"/><stop offset="0.0391" stop-color="#432dd5"/><stop offset="0.0469" stop-color="#442ed8"/><stop offset="0.0547" stop-color="#442fda"/><stop offset="0.0625" stop-color="#4431dc"/><stop offset="0.0703" stop-color="#4432de"/><stop offset="0.0781" stop-color="#4534e0"/><stop offset="0.0859" stop-color="#4536e1"/><stop offset="0.0938" stop-color="#4538e3"/><stop offset="0.1016" stop-color="#453ae4"/><stop offset="0.1094" stop-color="#463be6"/><stop offset="0.1172" stop-color="#463de7"/><stop offset="0.1250" stop-color="#4540e9"/><stop offset="0.1328" stop-color="#4444ea"/><stop offset="0.1406" stop-color="#4248eb"/><stop offset="0.1484" stop-color="#404dec"/><stop offset="0.1562" stop-color="#3f51ee"/><stop offset="0.1641" stop-color="#3d55ef"/><stop offset="0.1719" stop-color="#3b59f0"/><stop offset="0.1797" stop-color="#395df0"/><stop offset="0.1875" stop-color="#3761f1"/><stop offset="0.1953" stop-color="#3566f1"/><stop offset="0.2031" stop-color="#326af2"/><stop offset="0.2109" stop-color="#306ef2"/><stop offset="0.2188" stop-color="#2f71f2"/><stop offset="0.2266" stop-color="#2d74f1"/><stop offset="0.2344" stop-color="#2c78f1"/><stop offset="0.2422" stop-color="#2b7bf1"/><stop offset="0.2500" stop-color="#2a7ef0"/><stop offset="0.2578" stop-color="#2881f0"/><stop offset="0.2656" stop-color="#2784ef"/><stop offset="0.2734" stop-color="#2687ee"/><stop offset="0.2812" stop-color="#258aed"/><stop offset="0.2891" stop-color="#248dec"/><stop offset="0.2969" stop-color="#248fec"/><stop offset="0.3047" stop-color="#2392ea"/><stop offset="0.3125" stop-color="#2294e9"/><stop offset="0.3203" stop-color="#2196e7"/><stop offset="0.3281" stop-color="#2198e6"/><stop offset="0.3359" stop-color="#209ae4"/><stop offset="0.3438" stop-color="#209ce3"/><stop offset="0.3516" stop-color="#1f9ee1"/><stop offset="0.3594" stop-color="#1ea0e0"/><stop offset="0.3672" stop-color="#1ea2de"/><stop offset="0.3750" stop-color="#1da4dd"/><stop offset="0.3828" stop-color="#1da6dc"/><stop offset="0.3906" stop-color="#1ca8da"/><stop offset="0.3984" stop-color="#1ba9d8"/><stop offset="0.4062" stop-color="#1babd6"/><stop offset="0.4141" stop-color="#1aacd4"/><stop offset="0.4219" stop-color="#19add2"/><stop offset="0.4297" stop-color="#19afd0"/><stop offset="0.4375" stop-color="#18b0ce"/><stop offset="0.4453" stop-color="#17b2cc"/><stop offset="0.4531" stop-color="#17b3ca"/><stop offset="0.4609" stop-color="#16b4c7"/><stop offset="0.4688" stop-color="#18b5c3"/><stop offset="0.4766" stop-color="#19b6be"/><stop offset="0.4844" stop-color="#1bb7ba"/><stop offset="0.4922" stop-color="#1cb8b6"/><stop offset="0.5000" stop-color="#1db9b1"/><stop offset="0.5078" stop-color="#1fbaad"/><stop offset="0.5156" stop-color="#21bbaa"/><stop offset="0.5234" stop-color="#22bca6"/><stop offset="0.5312" stop-color="#24bca3"/><stop offset="0.5391" stop-color="#26bd9f"/><stop offset="0.5469" stop-color="#28be9c"/><stop offset="0.5547" stop-color="#29be98"/><stop offset="0.5625" stop-color="#2bbe95"/><stop offset="0.5703" stop-color="#2dbe91"/><stop offset="0.5781" stop-color="#31bf8d"/><stop offset="0.5859" stop-color="#35c089"/><stop offset="0.5938" stop-color="#3ac184"/><stop offset="0.6016" stop-color="#3ec280"/><stop offset="0.6094" stop-color="#42c27c"/><stop offset="0.6172" stop-color="#47c377"/><stop offset="0.6250" stop-color="#50c470"/><stop offset="0.6328" stop-color="#58c569"/><stop offset="0.6406" stop-color="#61c663"/><stop offset="0.6484" stop-color="#6ac75b"/><stop offset="0.6562" stop-color="#73c854"/><stop offset="0.6641" stop-color="#7cc84e"/><stop offset="0.6719" stop-color="#86c948"/><stop offset="0.6797" stop-color="#91ca42"/><stop offset="0.6875" stop-color="#9bcb3d"/><stop offset="0.6953" stop-color="#a5cc38"/><stop offset="0.7031" stop-color="#aecd34"/><stop offset="0.7109" stop-color="#b6cc31"/><stop offset="0.7188" stop-color="#bbcb2f"/><stop offset="0.7266" stop-color="#c1ca2d"/><stop offset="0.7344" stop-color="#c6c92a"/><stop offset="0.7422" stop-color="#ccc728"/><stop offset="0.7500" stop-color="#d1c626"/><stop offset="0.7578" stop-color="#d6c427"/><stop offset="0.7656" stop-color="#dbc328"/><stop offset="0.7734" stop-color="#dfc129"/><stop offset="0.7812" stop-color="#e4bf2b"/><stop offset="0.7891" stop-color="#e9be2c"/><stop offset="0.7969" stop-color="#edbc2d"/><stop offset="0.8047" stop-color="#efb92f"/><stop offset="0.8125" stop-color="#f1b630"/><stop offset="0.8203" stop-color="#f3b432"/><stop offset="0.8281" stop-color="#f3b631"/><stop offset="0.8359" stop-color="#f4b830"/><stop offset="0.8438" stop-color="#f4b92f"/><stop offset="0.8516" stop-color="#f4bb2e"/><stop offset="0.8594" stop-color="#f5bd2e"/><stop offset="0.8672" stop-color="#f5bf2c"/><stop offset="0.8750" stop-color="#f5c32b"/><stop offset="0.8828" stop-color="#f5c629"/><stop offset="0.8906" stop-color="#f5ca27"/><stop offset="0.8984" stop-color="#f5cd25"/><stop offset="0.9062" stop-color="#f5d124"/><stop offset="0.9141" stop-color="#f5d422"/><stop offset="0.9219" stop-color="#f6d720"/><stop offset="0.9297" stop-color="#f6da1e"/><stop offset="0.9375" stop-color="#f7dd1d"/><stop offset="0.9453" stop-color="#f7e11b"/><stop offset="0.9531" stop-color="#f8e419"/><stop offset="0.9609" stop-color="#f8e718"/><stop offset="0.9688" stop-color="#f9e917"/><stop offset="0.9766" stop-color="#f9ec17"/><stop offset="0.9844" stop-color="#f9ef16"/><stop offset="0.9922" stop-color="#faf215"/><stop offset="1.0000" stop-color="#faf514"/></linearGradient></defs>
<rect x="592.4" y="104.7" width="22.3" height="222.2" fill="url(#cb)" stroke="#000" stroke-width="1.3"/>
<path d="M614.7 306.3 L612.2 306.3 M614.7 280.2 L612.2 280.2 M614.7 254.1 L612.2 254.1 M614.7 228.1 L612.2 228.1 M614.7 202 L612.2 202 M614.7 175.9 L612.2 175.9 M614.7 149.9 L612.2 149.9 M614.7 123.8 L612.2 123.8" stroke="#000" stroke-width="1"/>
</g>
<g filter="url(#id0)">
<text x="71.5" y="301.7" text-anchor="end" style="font-family:'Liberation Sans',sans-serif;fill:#262626;stroke:#262626;stroke-width:0.3px;font-size:15px;letter-spacing:0.4px">0</text>
<text x="71.5" y="257.1" text-anchor="end" style="font-family:'Liberation Sans',sans-serif;fill:#262626;stroke:#262626;stroke-width:0.3px;font-size:15px;letter-spacing:0.4px">0.2</text>
<text x="71.5" y="212.6" text-anchor="end" style="font-family:'Liberation Sans',sans-serif;fill:#262626;stroke:#262626;stroke-width:0.3px;font-size:15px;letter-spacing:0.4px">0.4</text>
<text x="71.5" y="168" text-anchor="end" style="font-family:'Liberation Sans',sans-serif;fill:#262626;stroke:#262626;stroke-width:0.3px;font-size:15px;letter-spacing:0.4px">0.6</text>
<text x="71.5" y="123.5" text-anchor="end" style="font-family:'Liberation Sans',sans-serif;fill:#262626;stroke:#262626;stroke-width:0.3px;font-size:15px;letter-spacing:0.4px">0.8</text>
<text x="71.5" y="79" text-anchor="end" style="font-family:'Liberation Sans',sans-serif;fill:#262626;stroke:#262626;stroke-width:0.3px;font-size:15px;letter-spacing:0.4px">1</text>
<text x="291.3" y="424.7" text-anchor="end" style="font-family:'Liberation Sans',sans-serif;fill:#262626;stroke:#262626;stroke-width:0.3px;font-size:15px;letter-spacing:0.4px">0</text>
<text x="235.9" y="399.3" text-anchor="end" style="font-family:'Liberation Sans',sans-serif;fill:#262626;stroke:#262626;stroke-width:0.3px;font-size:15px;letter-spacing:0.4px">5</text>
<text x="180.5" y="373.9" text-anchor="end" style="font-family:'Liberation Sans',sans-serif;fill:#262626;stroke:#262626;stroke-width:0.3px;font-size:15px;letter-spacing:0.4px">10</text>
<text x="125.2" y="348.5" text-anchor="end" style="font-family:'Liberation Sans',sans-serif;fill:#262626;stroke:#262626;stroke-width:0.3px;font-size:15px;letter-spacing:0.4px">15</text>
<text x="69.8" y="323.2" text-anchor="end" style="font-family:'Liberation Sans',sans-serif;fill:#262626;stroke:#262626;stroke-width:0.3px;font-size:15px;letter-spacing:0.4px">20</text>
<text x="331.8" y="426.7" text-anchor="middle" style="font-family:'Liberation Sans',sans-serif;fill:#262626;stroke:#262626;stroke-width:0.3px;font-size:15px;letter-spacing:0.4px">300</text>
<text x="379.9" y="413.7" text-anchor="middle" style="font-family:'Liberation Sans',sans-serif;fill:#262626;stroke:#262626;stroke-width:0.3px;font-size:15px;letter-spacing:0.4px">310</text>
<text x="428" y="400.7" text-anchor="middle" style="font-family:'Liberation Sans',sans-serif;fill:#262626;stroke:#262626;stroke-width:0.3px;font-size:15px;letter-spacing:0.4px">320</text>
<text x="476.1" y="387.8" text-anchor="middle" style="font-family:'Liberation Sans',sans-serif;fill:#262626;stroke:#262626;stroke-width:0.3px;font-size:15px;letter-spacing:0.4px">330</text>
<text x="524.2" y="374.8" text-anchor="middle" style="font-family:'Liberation Sans',sans-serif;fill:#262626;stroke:#262626;stroke-width:0.3px;font-size:15px;letter-spacing:0.4px">340</text>
<text x="572.3" y="361.9" text-anchor="middle" style="font-family:'Liberation Sans',sans-serif;fill:#262626;stroke:#262626;stroke-width:0.3px;font-size:15px;letter-spacing:0.4px">350</text>
<text x="620.4" y="348.9" text-anchor="middle" style="font-family:'Liberation Sans',sans-serif;fill:#262626;stroke:#262626;stroke-width:0.3px;font-size:15px;letter-spacing:0.4px">360</text>
<text x="621.8" y="313" text-anchor="start" style="font-family:'Liberation Sans',sans-serif;fill:#262626;stroke:#262626;stroke-width:0.3px;font-size:15px;letter-spacing:-0.2px">0.1</text>
<text x="621.8" y="286.9" text-anchor="start" style="font-family:'Liberation Sans',sans-serif;fill:#262626;stroke:#262626;stroke-width:0.3px;font-size:15px;letter-spacing:-0.2px">0.2</text>
<text x="621.8" y="260.8" text-anchor="start" style="font-family:'Liberation Sans',sans-serif;fill:#262626;stroke:#262626;stroke-width:0.3px;font-size:15px;letter-spacing:-0.2px">0.3</text>
<text x="621.8" y="234.7" text-anchor="start" style="font-family:'Liberation Sans',sans-serif;fill:#262626;stroke:#262626;stroke-width:0.3px;font-size:15px;letter-spacing:-0.2px">0.4</text>
<text x="621.8" y="208.7" text-anchor="start" style="font-family:'Liberation Sans',sans-serif;fill:#262626;stroke:#262626;stroke-width:0.3px;font-size:15px;letter-spacing:-0.2px">0.5</text>
<text x="621.8" y="182.6" text-anchor="start" style="font-family:'Liberation Sans',sans-serif;fill:#262626;stroke:#262626;stroke-width:0.3px;font-size:15px;letter-spacing:-0.2px">0.6</text>
<text x="621.8" y="156.5" text-anchor="start" style="font-family:'Liberation Sans',sans-serif;fill:#262626;stroke:#262626;stroke-width:0.3px;font-size:15px;letter-spacing:-0.2px">0.7</text>
<text x="621.8" y="130.5" text-anchor="start" style="font-family:'Liberation Sans',sans-serif;fill:#262626;stroke:#262626;stroke-width:0.3px;font-size:15px;letter-spacing:-0.2px">0.8</text>
<text x="74.8" y="410.0" style="font-family:'Liberation Sans',sans-serif;font-weight:normal;fill:#262626;font-size:18px;stroke:#262626;stroke-width:0.75px" textLength="121.7" lengthAdjust="spacingAndGlyphs">Pressure (bar)</text>
<text x="419.9" y="425.6" style="font-family:'Liberation Sans',sans-serif;font-weight:normal;fill:#262626;font-size:18px;stroke:#262626;stroke-width:0.75px" textLength="142.1" lengthAdjust="spacingAndGlyphs">Temperature (K)</text>
<g transform="translate(17.9 278.8) rotate(-90)">
<text x="0" y="0" style="font-family:'Liberation Sans',sans-serif;font-weight:normal;fill:#262626;font-size:18px;stroke:#262626;stroke-width:0.75px">x</text>
<text x="10.9" y="9.2" style="font-family:'Liberation Sans',sans-serif;font-weight:normal;fill:#262626;stroke:#262626;stroke-width:0.75px;font-size:14.5px">H</text>
<text x="22.3" y="18.8" style="font-family:'Liberation Sans',sans-serif;font-weight:normal;fill:#262626;stroke:#262626;stroke-width:0.75px;font-size:10px">2</text>
<text x="28.6" y="9.2" style="font-family:'Liberation Sans',sans-serif;font-weight:normal;fill:#262626;stroke:#262626;stroke-width:0.75px;font-size:14.5px">S</text>
<text x="42.5" y="0" style="font-family:'Liberation Sans',sans-serif;font-weight:normal;fill:#262626;font-size:18px;stroke:#262626;stroke-width:0.75px" textLength="131.5" lengthAdjust="spacingAndGlyphs">(mole fraction)</text>
</g>
</g>
</svg>
</body></html>
